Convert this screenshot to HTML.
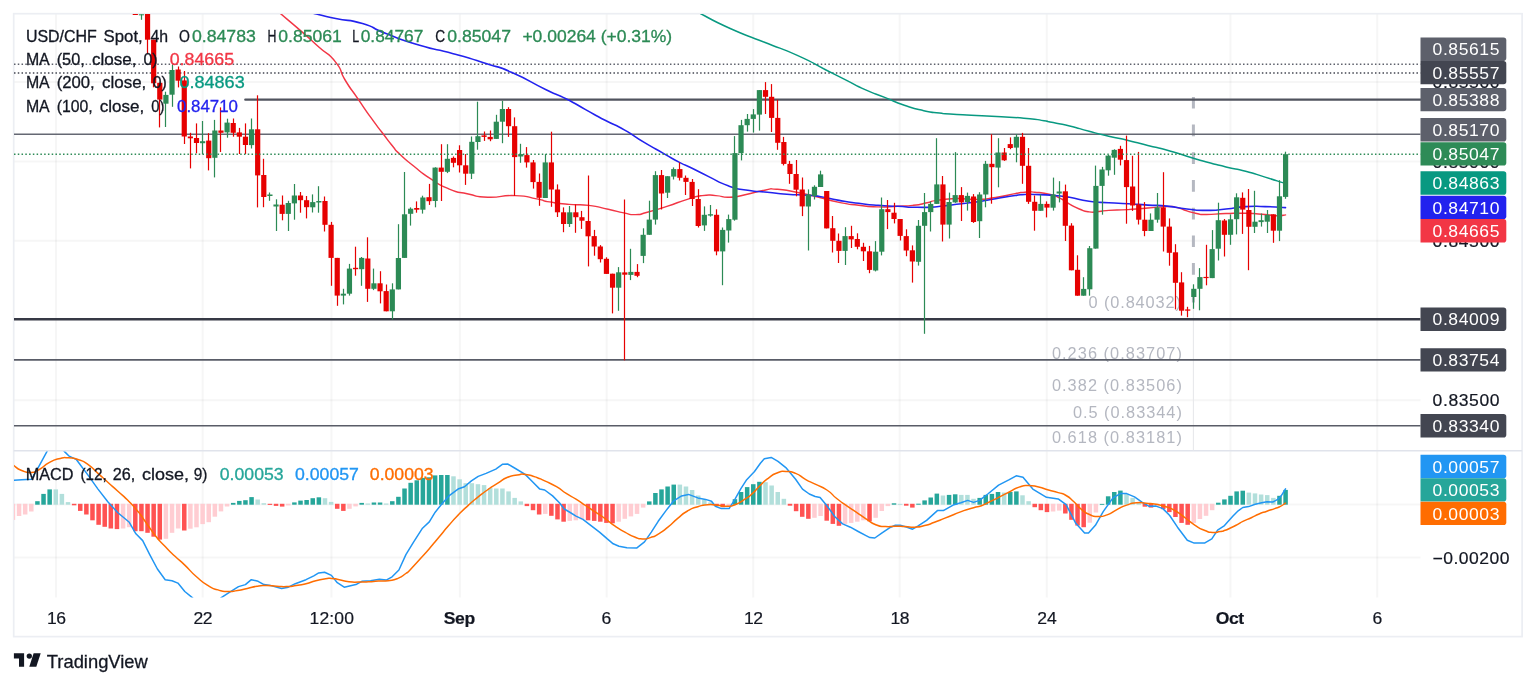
<!DOCTYPE html><html><head><meta charset="utf-8"><title>USD/CHF</title>
<style>html,body{margin:0;padding:0;background:#fff;}svg{display:block;font-family:"Liberation Sans", sans-serif;will-change:transform;opacity:0.999;}</style></head><body>
<svg width="1536" height="685" viewBox="0 0 1536 685">
<rect width="1536" height="685" fill="#fff"/>
<g stroke="#2a2e39" stroke-opacity="0.042" stroke-width="2" fill="none">
<line x1="56.0" y1="13.7" x2="56.0" y2="597.5"/>
<line x1="202.7" y1="13.7" x2="202.7" y2="597.5"/>
<line x1="331.4" y1="13.7" x2="331.4" y2="597.5"/>
<line x1="459.9" y1="13.7" x2="459.9" y2="597.5"/>
<line x1="606.7" y1="13.7" x2="606.7" y2="597.5"/>
<line x1="753.2" y1="13.7" x2="753.2" y2="597.5"/>
<line x1="899.7" y1="13.7" x2="899.7" y2="597.5"/>
<line x1="1046.8" y1="13.7" x2="1046.8" y2="597.5"/>
<line x1="1230.4" y1="13.7" x2="1230.4" y2="597.5"/>
<line x1="1377.2" y1="13.7" x2="1377.2" y2="597.5"/>
<line x1="13.7" y1="82.1" x2="1420.5" y2="82.1"/>
<line x1="13.7" y1="161.5" x2="1420.5" y2="161.5"/>
<line x1="13.7" y1="240.8" x2="1420.5" y2="240.8"/>
<line x1="13.7" y1="400.3" x2="1420.5" y2="400.3"/>
<line x1="13.7" y1="504.4" x2="1420.5" y2="504.4"/>
<line x1="13.7" y1="557.5" x2="1420.5" y2="557.5"/>
</g>
<rect x="13.7" y="13.7" width="1508.4" height="622.9" fill="none" stroke="#eceef3" stroke-width="1.7"/>
<line x1="13.7" y1="450.7" x2="1522.1" y2="450.7" stroke="#e0e3eb" stroke-width="1.4"/>
<defs><clipPath id="cm"><rect x="14" y="14" width="1406.5" height="436"/></clipPath><clipPath id="cd"><rect x="14" y="451.5" width="1406.5" height="146"/></clipPath></defs>
<g fill="none">
<line x1="14" y1="64.3" x2="1420.5" y2="64.3" stroke="#5d606b" stroke-width="1.5" stroke-dasharray="1.5 2.27"/>
<line x1="14" y1="72.9" x2="1420.5" y2="72.9" stroke="#434651" stroke-width="1.5" stroke-dasharray="1.5 2.27"/>
</g>
<line x1="1193.4" y1="96.9" x2="1193.4" y2="315.3" stroke="#b5b8c1" stroke-width="3" stroke-dasharray="11.7 16"/>
<line x1="1193.4" y1="303" x2="1193.4" y2="450.5" stroke="#e7e8eb" stroke-width="1.1"/>
<text transform="translate(1088.6 307.7) scale(1.020 1)" font-size="16" fill="#b4b7c0" text-anchor="start" textLength="90.49" lengthAdjust="spacing">0 (0.84032)</text>
<text transform="translate(1051.9 358.8) scale(1.020 1)" font-size="16" fill="#b4b7c0" text-anchor="start" textLength="127.45" lengthAdjust="spacing">0.236 (0.83707)</text>
<text transform="translate(1051.9 391.2) scale(1.020 1)" font-size="16" fill="#b4b7c0" text-anchor="start" textLength="127.45" lengthAdjust="spacing">0.382 (0.83506)</text>
<text transform="translate(1072.9 417.7) scale(1.020 1)" font-size="16" fill="#b4b7c0" text-anchor="start" textLength="106.86" lengthAdjust="spacing">0.5 (0.83344)</text>
<text transform="translate(1051.9 443.2) scale(1.020 1)" font-size="16" fill="#b4b7c0" text-anchor="start" textLength="127.45" lengthAdjust="spacing">0.618 (0.83181)</text>
<line x1="245.3" y1="99.7" x2="1420.5" y2="99.7" stroke="#50535e" stroke-width="2.3" stroke-linecap="round"/>
<line x1="14" y1="134.2" x2="1420.5" y2="134.2" stroke="#656873" stroke-width="1.6"/>
<line x1="14" y1="319.2" x2="1420.5" y2="319.2" stroke="#363945" stroke-width="2.4"/>
<line x1="14" y1="359.9" x2="1420.5" y2="359.9" stroke="#595c67" stroke-width="1.6"/>
<line x1="14" y1="425.8" x2="1420.5" y2="425.8" stroke="#595c67" stroke-width="1.6"/>
<g clip-path="url(#cm)" fill="none" stroke-linejoin="round" stroke-linecap="round">
<path d="M280.3 13.4 C287.5 19.6 289.2 20.7 302.0 31.9 C314.8 43.1 307.6 36.9 318.8 47.0 C330.0 57.1 326.8 51.1 335.6 62.1 C344.4 73.1 337.7 67.8 345.1 80.0 C352.5 92.2 349.3 86.2 357.8 98.6 C366.3 111.0 362.4 105.8 370.6 117.2 C378.8 128.6 375.1 123.4 382.3 132.8 C389.5 142.2 386.2 138.3 392.1 145.5 C398.0 152.7 392.7 147.5 399.9 154.3 C407.1 161.1 403.6 158.0 413.6 166.0 C423.6 174.0 418.3 170.8 430.0 178.4 C441.7 186.0 436.0 183.6 448.7 188.8 C461.4 194.0 455.2 191.2 468.2 194.0 C481.2 196.8 472.1 196.7 487.8 197.2 C503.5 197.7 498.9 195.0 515.2 195.6 C531.5 196.2 525.2 196.8 536.7 198.9 C548.2 201.0 538.8 200.1 549.6 201.9 C560.4 203.7 556.1 203.2 569.1 204.4 C582.1 205.6 575.7 203.8 588.7 205.4 C601.7 207.0 596.5 206.8 608.2 209.3 C619.9 211.8 614.8 211.1 623.9 212.9 C633.0 214.7 627.8 214.8 635.6 214.6 C643.4 214.4 636.9 215.0 647.3 212.3 C657.7 209.6 653.8 210.6 666.9 206.4 C680.0 202.2 674.8 203.2 686.5 199.6 C698.2 196.0 692.3 196.9 702.1 195.6 C711.9 194.3 706.7 195.1 715.8 195.6 C724.9 196.1 719.7 197.5 729.5 197.2 C739.3 196.9 733.4 197.0 745.1 194.7 C756.8 192.4 754.3 192.0 764.7 190.2 C775.1 188.4 766.6 188.7 776.4 189.2 C786.2 189.7 781.6 189.4 794.0 191.7 C806.4 194.0 805.1 194.1 813.6 196.0 C822.1 197.9 811.1 195.4 819.6 197.5 C828.1 199.6 826.1 199.8 839.1 202.4 C852.1 205.0 845.7 203.8 858.7 205.3 C871.7 206.8 865.2 206.6 878.2 206.9 C891.2 207.2 886.1 206.8 897.8 206.3 C909.5 205.8 903.6 206.5 913.4 205.3 C923.2 204.1 919.3 204.4 927.1 202.8 C934.9 201.2 927.1 201.8 936.9 200.4 C946.7 199.0 943.5 198.8 956.5 198.5 C969.5 198.2 963.0 199.7 976.0 199.4 C989.0 199.1 982.6 199.4 995.6 197.5 C1008.6 195.6 1005.3 195.4 1015.1 193.6 C1024.9 191.8 1018.4 192.7 1024.9 192.2 C1031.4 191.7 1026.2 191.4 1034.7 192.2 C1043.2 193.0 1041.9 192.5 1050.3 194.5 C1058.7 196.5 1053.4 195.0 1059.8 198.2 C1066.2 201.4 1063.1 200.5 1069.6 204.1 C1076.1 207.7 1072.8 206.4 1079.3 209.0 C1085.8 211.6 1082.6 211.1 1089.1 211.9 C1095.6 212.7 1092.4 212.0 1098.9 211.5 C1105.4 211.0 1098.9 211.0 1108.7 210.4 C1118.5 209.8 1115.2 210.4 1128.2 209.6 C1141.2 208.8 1134.8 209.0 1147.8 208.0 C1160.8 207.0 1157.5 206.7 1167.3 206.6 C1177.1 206.5 1170.6 206.2 1177.1 207.6 C1183.6 209.0 1180.4 208.9 1186.9 210.9 C1193.4 212.9 1190.2 212.3 1196.7 213.5 C1203.2 214.7 1196.7 214.5 1206.5 214.5 C1216.3 214.5 1213.0 213.9 1226.0 213.5 C1239.0 213.1 1232.6 213.0 1245.6 213.3 C1258.6 213.6 1254.7 213.7 1265.1 214.5 C1275.5 215.3 1270.1 215.7 1276.9 215.8 C1283.7 215.9 1282.6 215.2 1285.5 214.9" stroke="#f23645" stroke-width="1.45"/>
<path d="M313.9 13.4 C321.2 15.1 319.5 15.1 335.7 18.5 C351.9 21.9 345.7 18.5 362.5 23.5 C379.3 28.5 367.0 26.3 386.0 33.6 C405.0 40.9 397.2 38.6 419.6 45.3 C442.0 52.0 430.8 47.5 453.2 53.7 C475.6 59.9 467.2 57.5 486.8 63.8 C506.4 70.1 492.4 63.9 512.0 72.5 C531.6 81.1 527.6 80.7 545.6 89.5 C563.6 98.3 552.7 92.1 566.0 98.8 C579.3 105.5 572.6 102.4 585.6 109.6 C598.6 116.8 592.1 113.5 605.1 120.3 C618.1 127.1 611.7 122.7 624.7 130.1 C637.7 137.5 631.2 134.6 644.2 142.4 C657.2 150.2 652.0 146.9 663.8 153.6 C675.6 160.3 670.8 157.8 679.5 162.4 C688.2 167.0 680.3 162.6 690.0 167.3 C699.7 172.0 696.0 170.4 708.7 176.6 C721.4 182.8 715.2 181.2 728.2 185.8 C741.2 190.4 734.8 188.2 747.8 190.3 C760.8 192.4 754.3 190.9 767.3 192.2 C780.3 193.5 773.8 193.2 786.9 194.2 C800.0 195.2 795.6 194.4 806.5 195.2 C817.4 196.0 808.7 194.8 819.6 196.5 C830.5 198.2 826.1 198.1 839.1 200.4 C852.1 202.7 845.7 201.7 858.7 203.3 C871.7 204.9 865.2 204.3 878.2 205.3 C891.2 206.3 884.8 205.6 897.8 206.3 C910.8 207.0 904.3 207.2 917.3 207.3 C930.3 207.4 923.8 207.7 936.9 206.7 C950.0 205.7 943.5 205.9 956.5 204.3 C969.5 202.7 963.0 203.8 976.0 202.0 C989.0 200.2 982.6 201.0 995.6 198.8 C1008.6 196.6 1005.3 196.9 1015.1 195.5 C1024.9 194.1 1018.4 194.8 1024.9 194.5 C1031.4 194.2 1024.9 194.2 1034.7 194.5 C1044.5 194.8 1042.7 194.6 1054.3 195.5 C1065.9 196.4 1058.0 195.4 1069.6 197.3 C1081.2 199.2 1076.1 199.4 1089.1 201.2 C1102.1 203.0 1095.7 201.9 1108.7 202.7 C1121.7 203.5 1115.2 202.9 1128.2 203.7 C1141.2 204.5 1134.8 204.3 1147.8 205.1 C1160.8 205.9 1154.3 204.8 1167.3 206.1 C1180.3 207.4 1173.8 207.6 1186.9 209.0 C1200.0 210.4 1193.5 210.4 1206.5 210.4 C1219.5 210.4 1213.0 210.3 1226.0 209.0 C1239.0 207.7 1232.6 207.4 1245.6 206.6 C1258.6 205.8 1251.8 206.3 1265.1 206.6 C1278.4 206.9 1278.7 207.3 1285.5 207.6" stroke="#2222ee" stroke-width="1.6"/>
<path d="M700.0 13.4 C710.1 18.4 708.9 19.0 730.2 28.5 C751.5 38.0 741.4 33.0 763.8 42.0 C786.2 51.0 776.6 46.1 797.3 55.4 C818.0 64.7 809.9 61.9 826.0 70.0 C842.1 78.1 832.6 73.3 845.6 79.8 C858.6 86.3 852.1 83.7 865.1 89.6 C878.1 95.5 871.6 92.2 884.7 97.4 C897.8 102.6 891.3 100.8 904.3 105.2 C917.3 109.6 912.1 108.1 923.8 110.7 C935.5 113.3 930.8 111.9 939.5 113.0 C948.2 114.1 935.9 113.1 950.0 114.0 C964.1 114.9 957.3 114.4 981.9 115.8 C1006.5 117.2 1003.2 116.5 1023.9 118.2 C1044.6 119.9 1035.4 119.5 1044.1 120.8 C1052.8 122.1 1041.5 120.3 1050.0 122.0 C1058.5 123.7 1056.6 122.8 1069.6 125.9 C1082.6 129.0 1076.1 127.9 1089.1 131.3 C1102.1 134.7 1095.7 133.1 1108.7 136.2 C1121.7 139.3 1115.2 137.4 1128.2 140.5 C1141.2 143.6 1134.8 142.1 1147.8 145.4 C1160.8 148.7 1154.3 146.7 1167.3 150.3 C1180.3 153.9 1173.8 152.3 1186.9 156.2 C1200.0 160.1 1193.5 158.4 1206.5 162.0 C1219.5 165.6 1213.0 163.8 1226.0 166.9 C1239.0 170.0 1232.6 167.8 1245.6 171.2 C1258.6 174.6 1252.7 173.3 1265.1 177.1 C1277.5 180.9 1275.9 180.5 1282.7 182.6 C1289.5 184.7 1284.6 183.2 1285.5 183.5" stroke="#089981" stroke-width="1.5"/>
</g>
<g clip-path="url(#cm)" shape-rendering="auto">
<rect x="134.90" y="13.5" width="1.2" height="1.5" fill="#e60000"/>
<rect x="132.71" y="13.5" width="5.2" height="1.5" fill="#e60000"/>
<rect x="140.90" y="14.3" width="1.2" height="5.5" fill="#2c8a55"/>
<rect x="138.83" y="14.3" width="5.2" height="1.0" fill="#2c8a55"/>
<rect x="146.90" y="13.5" width="1.2" height="40.5" fill="#e60000"/>
<rect x="144.95" y="13.5" width="5.2" height="26.2" fill="#e60000"/>
<rect x="152.90" y="39.7" width="1.2" height="47.6" fill="#e60000"/>
<rect x="151.07" y="39.7" width="5.2" height="43.6" fill="#e60000"/>
<rect x="158.90" y="82.8" width="1.2" height="44.6" fill="#e60000"/>
<rect x="157.19" y="82.8" width="5.2" height="16.8" fill="#e60000"/>
<rect x="164.90" y="91.7" width="1.2" height="35.3" fill="#2c8a55"/>
<rect x="163.31" y="94.9" width="5.2" height="8.8" fill="#2c8a55"/>
<rect x="171.90" y="64.8" width="1.2" height="42.0" fill="#2c8a55"/>
<rect x="169.42" y="70.0" width="5.2" height="24.7" fill="#2c8a55"/>
<rect x="177.90" y="66.5" width="1.2" height="20.9" fill="#e60000"/>
<rect x="175.54" y="69.5" width="5.2" height="11.2" fill="#e60000"/>
<rect x="183.90" y="71.0" width="1.2" height="73.0" fill="#e60000"/>
<rect x="181.66" y="80.4" width="5.2" height="56.1" fill="#e60000"/>
<rect x="189.90" y="132.8" width="1.2" height="35.6" fill="#e60000"/>
<rect x="187.78" y="136.5" width="5.2" height="1.8" fill="#e60000"/>
<rect x="195.90" y="123.4" width="1.2" height="29.9" fill="#e60000"/>
<rect x="193.90" y="138.0" width="5.2" height="5.0" fill="#e60000"/>
<rect x="201.90" y="121.0" width="1.2" height="33.3" fill="#2c8a55"/>
<rect x="200.02" y="141.2" width="5.2" height="2.0" fill="#2c8a55"/>
<rect x="207.90" y="133.2" width="1.2" height="37.2" fill="#e60000"/>
<rect x="206.14" y="140.6" width="5.2" height="17.6" fill="#e60000"/>
<rect x="213.90" y="119.9" width="1.2" height="57.5" fill="#2c8a55"/>
<rect x="212.25" y="130.5" width="5.2" height="27.3" fill="#2c8a55"/>
<rect x="219.90" y="107.4" width="1.2" height="44.6" fill="#e60000"/>
<rect x="218.37" y="130.5" width="5.2" height="2.3" fill="#e60000"/>
<rect x="226.90" y="118.7" width="1.2" height="19.0" fill="#2c8a55"/>
<rect x="224.49" y="122.6" width="5.2" height="9.8" fill="#2c8a55"/>
<rect x="232.90" y="118.5" width="1.2" height="18.2" fill="#e60000"/>
<rect x="230.61" y="123.0" width="5.2" height="9.8" fill="#e60000"/>
<rect x="238.90" y="127.9" width="1.2" height="26.1" fill="#e60000"/>
<rect x="236.73" y="132.4" width="5.2" height="4.3" fill="#e60000"/>
<rect x="244.90" y="123.4" width="1.2" height="30.6" fill="#e60000"/>
<rect x="242.85" y="136.7" width="5.2" height="8.3" fill="#e60000"/>
<rect x="250.90" y="118.5" width="1.2" height="30.0" fill="#2c8a55"/>
<rect x="248.96" y="129.3" width="5.2" height="15.8" fill="#2c8a55"/>
<rect x="256.90" y="95.3" width="1.2" height="112.1" fill="#e60000"/>
<rect x="255.08" y="129.3" width="5.2" height="46.1" fill="#e60000"/>
<rect x="262.90" y="158.8" width="1.2" height="48.4" fill="#e60000"/>
<rect x="261.20" y="175.0" width="5.2" height="22.0" fill="#e60000"/>
<rect x="268.90" y="192.5" width="1.2" height="8.3" fill="#2c8a55"/>
<rect x="267.32" y="194.5" width="5.2" height="1.5" fill="#2c8a55"/>
<rect x="275.90" y="199.3" width="1.2" height="31.7" fill="#2c8a55"/>
<rect x="273.44" y="204.5" width="5.2" height="2.0" fill="#2c8a55"/>
<rect x="281.90" y="195.5" width="1.2" height="24.8" fill="#e60000"/>
<rect x="279.56" y="204.7" width="5.2" height="9.2" fill="#e60000"/>
<rect x="287.90" y="200.8" width="1.2" height="30.2" fill="#2c8a55"/>
<rect x="285.68" y="203.0" width="5.2" height="10.9" fill="#2c8a55"/>
<rect x="293.90" y="184.0" width="1.2" height="35.7" fill="#2c8a55"/>
<rect x="291.79" y="195.5" width="5.2" height="7.9" fill="#2c8a55"/>
<rect x="299.90" y="192.0" width="1.2" height="20.7" fill="#e60000"/>
<rect x="297.91" y="195.5" width="5.2" height="4.7" fill="#e60000"/>
<rect x="305.90" y="196.0" width="1.2" height="22.4" fill="#e60000"/>
<rect x="304.03" y="200.2" width="5.2" height="7.0" fill="#e60000"/>
<rect x="311.90" y="194.4" width="1.2" height="18.1" fill="#2c8a55"/>
<rect x="310.15" y="202.1" width="5.2" height="5.2" fill="#2c8a55"/>
<rect x="317.90" y="186.2" width="1.2" height="26.5" fill="#2c8a55"/>
<rect x="316.27" y="201.0" width="5.2" height="1.5" fill="#2c8a55"/>
<rect x="323.90" y="196.5" width="1.2" height="35.0" fill="#e60000"/>
<rect x="322.39" y="201.0" width="5.2" height="23.8" fill="#e60000"/>
<rect x="330.90" y="221.9" width="1.2" height="63.9" fill="#e60000"/>
<rect x="328.50" y="224.8" width="5.2" height="33.1" fill="#e60000"/>
<rect x="336.90" y="257.9" width="1.2" height="47.9" fill="#e60000"/>
<rect x="334.62" y="257.9" width="5.2" height="37.7" fill="#e60000"/>
<rect x="342.90" y="288.8" width="1.2" height="15.6" fill="#2c8a55"/>
<rect x="340.74" y="293.7" width="5.2" height="1.9" fill="#2c8a55"/>
<rect x="348.90" y="263.9" width="1.2" height="31.7" fill="#2c8a55"/>
<rect x="346.86" y="268.6" width="5.2" height="25.1" fill="#2c8a55"/>
<rect x="354.90" y="246.7" width="1.2" height="29.0" fill="#e60000"/>
<rect x="352.98" y="267.8" width="5.2" height="1.4" fill="#e60000"/>
<rect x="360.90" y="257.0" width="1.2" height="28.8" fill="#2c8a55"/>
<rect x="359.10" y="257.9" width="5.2" height="11.3" fill="#2c8a55"/>
<rect x="366.90" y="237.3" width="1.2" height="64.6" fill="#e60000"/>
<rect x="365.22" y="258.5" width="5.2" height="30.3" fill="#e60000"/>
<rect x="372.90" y="268.6" width="1.2" height="21.5" fill="#2c8a55"/>
<rect x="371.33" y="283.3" width="5.2" height="5.5" fill="#2c8a55"/>
<rect x="379.90" y="271.2" width="1.2" height="32.2" fill="#e60000"/>
<rect x="377.45" y="283.3" width="5.2" height="8.0" fill="#e60000"/>
<rect x="385.90" y="284.5" width="1.2" height="26.8" fill="#e60000"/>
<rect x="383.57" y="291.1" width="5.2" height="20.2" fill="#e60000"/>
<rect x="391.90" y="283.3" width="1.2" height="36.2" fill="#2c8a55"/>
<rect x="389.69" y="289.4" width="5.2" height="21.9" fill="#2c8a55"/>
<rect x="397.90" y="224.2" width="1.2" height="65.2" fill="#2c8a55"/>
<rect x="395.81" y="258.0" width="5.2" height="31.4" fill="#2c8a55"/>
<rect x="403.90" y="172.0" width="1.2" height="85.9" fill="#2c8a55"/>
<rect x="401.93" y="214.3" width="5.2" height="43.6" fill="#2c8a55"/>
<rect x="409.90" y="207.4" width="1.2" height="18.2" fill="#2c8a55"/>
<rect x="408.05" y="208.7" width="5.2" height="5.1" fill="#2c8a55"/>
<rect x="415.90" y="201.4" width="1.2" height="11.3" fill="#e60000"/>
<rect x="414.16" y="208.0" width="5.2" height="1.7" fill="#e60000"/>
<rect x="421.90" y="195.7" width="1.2" height="17.9" fill="#2c8a55"/>
<rect x="420.28" y="197.5" width="5.2" height="12.2" fill="#2c8a55"/>
<rect x="428.90" y="183.9" width="1.2" height="21.0" fill="#e60000"/>
<rect x="426.40" y="197.2" width="5.2" height="4.0" fill="#e60000"/>
<rect x="434.90" y="167.3" width="1.2" height="40.0" fill="#2c8a55"/>
<rect x="432.52" y="167.6" width="5.2" height="33.4" fill="#2c8a55"/>
<rect x="440.90" y="144.2" width="1.2" height="56.8" fill="#e60000"/>
<rect x="438.64" y="167.6" width="5.2" height="4.2" fill="#e60000"/>
<rect x="446.90" y="144.2" width="1.2" height="28.9" fill="#2c8a55"/>
<rect x="444.76" y="158.8" width="5.2" height="13.0" fill="#2c8a55"/>
<rect x="452.90" y="156.5" width="1.2" height="10.8" fill="#e60000"/>
<rect x="450.88" y="157.9" width="5.2" height="4.9" fill="#e60000"/>
<rect x="458.90" y="145.3" width="1.2" height="27.2" fill="#e60000"/>
<rect x="456.99" y="150.0" width="5.2" height="15.3" fill="#e60000"/>
<rect x="464.90" y="154.1" width="1.2" height="30.8" fill="#e60000"/>
<rect x="463.11" y="165.3" width="5.2" height="8.4" fill="#e60000"/>
<rect x="470.90" y="136.5" width="1.2" height="42.5" fill="#2c8a55"/>
<rect x="469.23" y="141.8" width="5.2" height="31.9" fill="#2c8a55"/>
<rect x="476.90" y="101.7" width="1.2" height="48.0" fill="#2c8a55"/>
<rect x="475.35" y="136.2" width="5.2" height="5.8" fill="#2c8a55"/>
<rect x="483.90" y="131.5" width="1.2" height="9.4" fill="#e60000"/>
<rect x="481.47" y="135.4" width="5.2" height="1.5" fill="#e60000"/>
<rect x="489.90" y="130.5" width="1.2" height="10.7" fill="#e60000"/>
<rect x="487.59" y="136.9" width="5.2" height="2.4" fill="#e60000"/>
<rect x="495.90" y="114.8" width="1.2" height="24.1" fill="#2c8a55"/>
<rect x="493.70" y="121.7" width="5.2" height="17.2" fill="#2c8a55"/>
<rect x="501.90" y="100.8" width="1.2" height="42.4" fill="#2c8a55"/>
<rect x="499.82" y="109.0" width="5.2" height="12.7" fill="#2c8a55"/>
<rect x="507.90" y="107.2" width="1.2" height="29.7" fill="#e60000"/>
<rect x="505.94" y="109.0" width="5.2" height="17.2" fill="#e60000"/>
<rect x="513.90" y="117.4" width="1.2" height="78.6" fill="#e60000"/>
<rect x="512.06" y="126.2" width="5.2" height="30.9" fill="#e60000"/>
<rect x="519.90" y="143.8" width="1.2" height="19.0" fill="#2c8a55"/>
<rect x="518.18" y="154.1" width="5.2" height="2.4" fill="#2c8a55"/>
<rect x="525.90" y="147.1" width="1.2" height="20.5" fill="#e60000"/>
<rect x="524.30" y="155.1" width="5.2" height="7.3" fill="#e60000"/>
<rect x="532.90" y="160.0" width="1.2" height="28.6" fill="#e60000"/>
<rect x="530.42" y="162.4" width="5.2" height="19.7" fill="#e60000"/>
<rect x="538.90" y="173.5" width="1.2" height="32.3" fill="#e60000"/>
<rect x="536.53" y="181.9" width="5.2" height="15.9" fill="#e60000"/>
<rect x="544.90" y="154.1" width="1.2" height="43.9" fill="#2c8a55"/>
<rect x="542.65" y="162.4" width="5.2" height="35.6" fill="#2c8a55"/>
<rect x="550.90" y="131.7" width="1.2" height="75.1" fill="#e60000"/>
<rect x="548.77" y="162.4" width="5.2" height="27.1" fill="#e60000"/>
<rect x="556.90" y="184.4" width="1.2" height="32.6" fill="#e60000"/>
<rect x="554.89" y="189.5" width="5.2" height="22.8" fill="#e60000"/>
<rect x="562.90" y="207.4" width="1.2" height="24.8" fill="#e60000"/>
<rect x="561.01" y="212.3" width="5.2" height="11.7" fill="#e60000"/>
<rect x="568.90" y="206.0" width="1.2" height="21.0" fill="#2c8a55"/>
<rect x="567.13" y="212.3" width="5.2" height="11.7" fill="#2c8a55"/>
<rect x="574.90" y="204.4" width="1.2" height="28.4" fill="#e60000"/>
<rect x="573.25" y="212.3" width="5.2" height="4.9" fill="#e60000"/>
<rect x="580.90" y="210.9" width="1.2" height="18.0" fill="#e60000"/>
<rect x="579.36" y="217.2" width="5.2" height="3.5" fill="#e60000"/>
<rect x="587.90" y="175.5" width="1.2" height="90.9" fill="#e60000"/>
<rect x="585.48" y="221.0" width="5.2" height="15.3" fill="#e60000"/>
<rect x="593.90" y="229.9" width="1.2" height="25.8" fill="#e60000"/>
<rect x="591.60" y="236.1" width="5.2" height="10.4" fill="#e60000"/>
<rect x="599.90" y="245.1" width="1.2" height="17.4" fill="#e60000"/>
<rect x="597.72" y="246.5" width="5.2" height="12.7" fill="#e60000"/>
<rect x="605.90" y="257.3" width="1.2" height="16.6" fill="#e60000"/>
<rect x="603.84" y="258.8" width="5.2" height="15.1" fill="#e60000"/>
<rect x="611.90" y="273.7" width="1.2" height="39.7" fill="#e60000"/>
<rect x="609.96" y="273.7" width="5.2" height="14.0" fill="#e60000"/>
<rect x="617.90" y="267.1" width="1.2" height="43.7" fill="#2c8a55"/>
<rect x="616.07" y="272.3" width="5.2" height="15.4" fill="#2c8a55"/>
<rect x="623.90" y="199.5" width="1.2" height="160.8" fill="#e60000"/>
<rect x="622.19" y="272.4" width="5.2" height="2.3" fill="#e60000"/>
<rect x="629.90" y="248.8" width="1.2" height="31.3" fill="#2c8a55"/>
<rect x="628.31" y="271.9" width="5.2" height="3.0" fill="#2c8a55"/>
<rect x="636.90" y="264.1" width="1.2" height="13.1" fill="#e60000"/>
<rect x="634.43" y="271.9" width="5.2" height="3.9" fill="#e60000"/>
<rect x="642.90" y="228.3" width="1.2" height="34.8" fill="#2c8a55"/>
<rect x="640.55" y="234.8" width="5.2" height="21.1" fill="#2c8a55"/>
<rect x="648.90" y="200.7" width="1.2" height="34.1" fill="#2c8a55"/>
<rect x="646.67" y="219.6" width="5.2" height="15.2" fill="#2c8a55"/>
<rect x="654.90" y="171.2" width="1.2" height="53.4" fill="#2c8a55"/>
<rect x="652.79" y="175.1" width="5.2" height="44.5" fill="#2c8a55"/>
<rect x="660.90" y="170.0" width="1.2" height="39.5" fill="#e60000"/>
<rect x="658.90" y="175.1" width="5.2" height="18.4" fill="#e60000"/>
<rect x="666.90" y="176.2" width="1.2" height="21.8" fill="#2c8a55"/>
<rect x="665.02" y="176.2" width="5.2" height="16.5" fill="#2c8a55"/>
<rect x="672.90" y="167.4" width="1.2" height="12.1" fill="#2c8a55"/>
<rect x="671.14" y="169.1" width="5.2" height="7.5" fill="#2c8a55"/>
<rect x="678.90" y="162.6" width="1.2" height="17.9" fill="#e60000"/>
<rect x="677.26" y="169.1" width="5.2" height="8.7" fill="#e60000"/>
<rect x="684.90" y="175.5" width="1.2" height="19.5" fill="#e60000"/>
<rect x="683.38" y="177.8" width="5.2" height="4.1" fill="#e60000"/>
<rect x="691.90" y="179.0" width="1.2" height="27.0" fill="#e60000"/>
<rect x="689.50" y="181.9" width="5.2" height="17.1" fill="#e60000"/>
<rect x="697.90" y="189.2" width="1.2" height="38.3" fill="#e60000"/>
<rect x="695.61" y="199.0" width="5.2" height="27.0" fill="#e60000"/>
<rect x="703.90" y="206.4" width="1.2" height="24.5" fill="#2c8a55"/>
<rect x="701.73" y="214.8" width="5.2" height="10.6" fill="#2c8a55"/>
<rect x="709.90" y="205.0" width="1.2" height="11.6" fill="#2c8a55"/>
<rect x="707.85" y="214.2" width="5.2" height="1.4" fill="#2c8a55"/>
<rect x="715.90" y="209.3" width="1.2" height="46.0" fill="#e60000"/>
<rect x="713.97" y="214.8" width="5.2" height="36.6" fill="#e60000"/>
<rect x="721.90" y="227.5" width="1.2" height="57.7" fill="#2c8a55"/>
<rect x="720.09" y="229.9" width="5.2" height="21.5" fill="#2c8a55"/>
<rect x="727.90" y="214.6" width="1.2" height="28.0" fill="#2c8a55"/>
<rect x="726.21" y="219.1" width="5.2" height="11.4" fill="#2c8a55"/>
<rect x="733.90" y="136.1" width="1.2" height="84.6" fill="#2c8a55"/>
<rect x="732.33" y="153.1" width="5.2" height="66.6" fill="#2c8a55"/>
<rect x="740.90" y="119.9" width="1.2" height="40.5" fill="#2c8a55"/>
<rect x="738.44" y="125.2" width="5.2" height="27.9" fill="#2c8a55"/>
<rect x="746.90" y="114.0" width="1.2" height="17.6" fill="#2c8a55"/>
<rect x="744.56" y="118.9" width="5.2" height="6.3" fill="#2c8a55"/>
<rect x="752.90" y="109.1" width="1.2" height="23.5" fill="#2c8a55"/>
<rect x="750.68" y="114.4" width="5.2" height="4.5" fill="#2c8a55"/>
<rect x="758.90" y="90.1" width="1.2" height="40.5" fill="#2c8a55"/>
<rect x="756.80" y="90.1" width="5.2" height="24.5" fill="#2c8a55"/>
<rect x="764.90" y="82.1" width="1.2" height="31.9" fill="#e60000"/>
<rect x="762.92" y="90.1" width="5.2" height="6.7" fill="#e60000"/>
<rect x="770.90" y="84.1" width="1.2" height="47.9" fill="#e60000"/>
<rect x="769.04" y="96.8" width="5.2" height="21.1" fill="#e60000"/>
<rect x="776.90" y="99.7" width="1.2" height="50.1" fill="#e60000"/>
<rect x="775.16" y="117.9" width="5.2" height="24.9" fill="#e60000"/>
<rect x="782.90" y="136.9" width="1.2" height="28.5" fill="#e60000"/>
<rect x="781.27" y="142.0" width="5.2" height="21.9" fill="#e60000"/>
<rect x="788.90" y="160.9" width="1.2" height="22.9" fill="#e60000"/>
<rect x="787.39" y="163.9" width="5.2" height="10.1" fill="#e60000"/>
<rect x="795.90" y="160.0" width="1.2" height="36.3" fill="#e60000"/>
<rect x="793.51" y="174.0" width="5.2" height="15.7" fill="#e60000"/>
<rect x="801.90" y="177.5" width="1.2" height="38.6" fill="#e60000"/>
<rect x="799.63" y="189.5" width="5.2" height="16.9" fill="#e60000"/>
<rect x="807.90" y="189.4" width="1.2" height="61.1" fill="#2c8a55"/>
<rect x="805.75" y="194.5" width="5.2" height="12.0" fill="#2c8a55"/>
<rect x="813.90" y="185.3" width="1.2" height="14.2" fill="#2c8a55"/>
<rect x="811.87" y="186.8" width="5.2" height="9.1" fill="#2c8a55"/>
<rect x="819.90" y="170.7" width="1.2" height="16.3" fill="#2c8a55"/>
<rect x="817.99" y="174.4" width="5.2" height="12.6" fill="#2c8a55"/>
<rect x="825.90" y="191.0" width="1.2" height="37.4" fill="#e60000"/>
<rect x="824.10" y="191.0" width="5.2" height="37.4" fill="#e60000"/>
<rect x="831.90" y="216.0" width="1.2" height="36.5" fill="#e60000"/>
<rect x="830.22" y="228.2" width="5.2" height="12.6" fill="#e60000"/>
<rect x="837.90" y="233.5" width="1.2" height="29.5" fill="#e60000"/>
<rect x="836.34" y="240.8" width="5.2" height="10.1" fill="#e60000"/>
<rect x="844.90" y="227.2" width="1.2" height="37.8" fill="#2c8a55"/>
<rect x="842.46" y="236.1" width="5.2" height="14.8" fill="#2c8a55"/>
<rect x="850.90" y="225.8" width="1.2" height="22.2" fill="#e60000"/>
<rect x="848.58" y="236.1" width="5.2" height="3.3" fill="#e60000"/>
<rect x="856.90" y="233.3" width="1.2" height="16.0" fill="#e60000"/>
<rect x="854.70" y="239.0" width="5.2" height="7.8" fill="#e60000"/>
<rect x="862.90" y="242.8" width="1.2" height="18.2" fill="#e60000"/>
<rect x="860.81" y="246.8" width="5.2" height="4.5" fill="#e60000"/>
<rect x="868.90" y="245.9" width="1.2" height="27.3" fill="#e60000"/>
<rect x="866.93" y="251.3" width="5.2" height="18.6" fill="#e60000"/>
<rect x="874.90" y="241.1" width="1.2" height="30.3" fill="#2c8a55"/>
<rect x="873.05" y="251.7" width="5.2" height="18.8" fill="#2c8a55"/>
<rect x="880.90" y="197.5" width="1.2" height="57.9" fill="#2c8a55"/>
<rect x="879.17" y="209.2" width="5.2" height="42.5" fill="#2c8a55"/>
<rect x="886.90" y="200.0" width="1.2" height="29.1" fill="#e60000"/>
<rect x="885.29" y="209.2" width="5.2" height="2.9" fill="#e60000"/>
<rect x="893.90" y="202.8" width="1.2" height="20.6" fill="#e60000"/>
<rect x="891.41" y="212.7" width="5.2" height="6.3" fill="#e60000"/>
<rect x="899.90" y="219.0" width="1.2" height="21.5" fill="#e60000"/>
<rect x="897.53" y="219.0" width="5.2" height="16.9" fill="#e60000"/>
<rect x="905.90" y="229.3" width="1.2" height="26.9" fill="#e60000"/>
<rect x="903.64" y="236.1" width="5.2" height="14.4" fill="#e60000"/>
<rect x="911.90" y="245.4" width="1.2" height="37.2" fill="#e60000"/>
<rect x="909.76" y="250.3" width="5.2" height="11.2" fill="#e60000"/>
<rect x="917.90" y="220.0" width="1.2" height="45.6" fill="#2c8a55"/>
<rect x="915.88" y="225.8" width="5.2" height="36.0" fill="#2c8a55"/>
<rect x="923.90" y="193.0" width="1.2" height="140.8" fill="#2c8a55"/>
<rect x="922.00" y="212.1" width="5.2" height="13.7" fill="#2c8a55"/>
<rect x="929.90" y="201.4" width="1.2" height="30.1" fill="#2c8a55"/>
<rect x="928.12" y="203.9" width="5.2" height="8.2" fill="#2c8a55"/>
<rect x="935.90" y="138.2" width="1.2" height="65.7" fill="#2c8a55"/>
<rect x="934.24" y="184.4" width="5.2" height="19.5" fill="#2c8a55"/>
<rect x="941.90" y="176.0" width="1.2" height="65.5" fill="#e60000"/>
<rect x="940.35" y="184.4" width="5.2" height="40.2" fill="#e60000"/>
<rect x="948.90" y="192.6" width="1.2" height="45.9" fill="#2c8a55"/>
<rect x="946.47" y="202.0" width="5.2" height="22.6" fill="#2c8a55"/>
<rect x="954.90" y="152.1" width="1.2" height="50.7" fill="#2c8a55"/>
<rect x="952.59" y="195.1" width="5.2" height="7.3" fill="#2c8a55"/>
<rect x="960.90" y="187.1" width="1.2" height="33.9" fill="#e60000"/>
<rect x="958.71" y="195.1" width="5.2" height="7.3" fill="#e60000"/>
<rect x="966.90" y="192.6" width="1.2" height="18.0" fill="#2c8a55"/>
<rect x="964.83" y="195.9" width="5.2" height="6.1" fill="#2c8a55"/>
<rect x="972.90" y="194.1" width="1.2" height="28.8" fill="#e60000"/>
<rect x="970.95" y="196.5" width="5.2" height="25.5" fill="#e60000"/>
<rect x="978.90" y="192.2" width="1.2" height="45.8" fill="#2c8a55"/>
<rect x="977.07" y="194.5" width="5.2" height="26.7" fill="#2c8a55"/>
<rect x="984.90" y="160.9" width="1.2" height="46.4" fill="#2c8a55"/>
<rect x="983.18" y="163.8" width="5.2" height="30.7" fill="#2c8a55"/>
<rect x="990.90" y="134.3" width="1.2" height="69.4" fill="#e60000"/>
<rect x="989.30" y="163.8" width="5.2" height="3.4" fill="#e60000"/>
<rect x="997.90" y="138.2" width="1.2" height="49.1" fill="#2c8a55"/>
<rect x="995.42" y="152.5" width="5.2" height="15.1" fill="#2c8a55"/>
<rect x="1003.90" y="148.0" width="1.2" height="12.9" fill="#e60000"/>
<rect x="1001.54" y="152.5" width="5.2" height="7.8" fill="#e60000"/>
<rect x="1009.90" y="137.4" width="1.2" height="11.8" fill="#e60000"/>
<rect x="1007.66" y="144.1" width="5.2" height="3.9" fill="#e60000"/>
<rect x="1015.90" y="134.3" width="1.2" height="28.0" fill="#2c8a55"/>
<rect x="1013.78" y="136.8" width="5.2" height="10.8" fill="#2c8a55"/>
<rect x="1021.90" y="132.9" width="1.2" height="50.9" fill="#e60000"/>
<rect x="1019.90" y="136.8" width="5.2" height="29.0" fill="#e60000"/>
<rect x="1027.90" y="148.0" width="1.2" height="55.9" fill="#e60000"/>
<rect x="1026.01" y="165.8" width="5.2" height="36.0" fill="#e60000"/>
<rect x="1033.90" y="195.5" width="1.2" height="35.2" fill="#e60000"/>
<rect x="1032.13" y="201.8" width="5.2" height="9.0" fill="#e60000"/>
<rect x="1039.90" y="194.5" width="1.2" height="16.3" fill="#2c8a55"/>
<rect x="1038.25" y="203.9" width="5.2" height="6.9" fill="#2c8a55"/>
<rect x="1045.90" y="201.4" width="1.2" height="16.0" fill="#e60000"/>
<rect x="1044.37" y="203.9" width="5.2" height="3.7" fill="#e60000"/>
<rect x="1052.90" y="177.6" width="1.2" height="33.0" fill="#2c8a55"/>
<rect x="1050.49" y="194.4" width="5.2" height="13.3" fill="#2c8a55"/>
<rect x="1058.90" y="181.2" width="1.2" height="21.2" fill="#2c8a55"/>
<rect x="1056.61" y="191.5" width="5.2" height="2.0" fill="#2c8a55"/>
<rect x="1064.90" y="184.6" width="1.2" height="56.4" fill="#e60000"/>
<rect x="1062.73" y="191.3" width="5.2" height="34.5" fill="#e60000"/>
<rect x="1070.90" y="223.2" width="1.2" height="47.1" fill="#e60000"/>
<rect x="1068.84" y="225.6" width="5.2" height="44.7" fill="#e60000"/>
<rect x="1076.90" y="255.3" width="1.2" height="40.4" fill="#e60000"/>
<rect x="1074.96" y="269.8" width="5.2" height="25.9" fill="#e60000"/>
<rect x="1082.90" y="277.2" width="1.2" height="18.5" fill="#2c8a55"/>
<rect x="1081.08" y="288.9" width="5.2" height="6.8" fill="#2c8a55"/>
<rect x="1088.90" y="246.0" width="1.2" height="49.7" fill="#2c8a55"/>
<rect x="1087.20" y="248.2" width="5.2" height="41.1" fill="#2c8a55"/>
<rect x="1094.90" y="165.6" width="1.2" height="83.0" fill="#2c8a55"/>
<rect x="1093.32" y="185.9" width="5.2" height="62.7" fill="#2c8a55"/>
<rect x="1101.90" y="166.9" width="1.2" height="47.8" fill="#2c8a55"/>
<rect x="1099.44" y="169.5" width="5.2" height="16.4" fill="#2c8a55"/>
<rect x="1107.90" y="154.8" width="1.2" height="20.9" fill="#2c8a55"/>
<rect x="1105.55" y="155.6" width="5.2" height="14.7" fill="#2c8a55"/>
<rect x="1113.90" y="149.3" width="1.2" height="25.5" fill="#2c8a55"/>
<rect x="1111.67" y="149.9" width="5.2" height="7.8" fill="#2c8a55"/>
<rect x="1119.90" y="145.8" width="1.2" height="19.6" fill="#e60000"/>
<rect x="1117.79" y="148.9" width="5.2" height="10.8" fill="#e60000"/>
<rect x="1125.90" y="135.6" width="1.2" height="88.1" fill="#e60000"/>
<rect x="1123.91" y="160.1" width="5.2" height="27.0" fill="#e60000"/>
<rect x="1131.90" y="155.8" width="1.2" height="55.1" fill="#e60000"/>
<rect x="1130.03" y="186.5" width="5.2" height="19.0" fill="#e60000"/>
<rect x="1137.90" y="151.9" width="1.2" height="72.6" fill="#e60000"/>
<rect x="1136.15" y="204.5" width="5.2" height="15.2" fill="#e60000"/>
<rect x="1143.90" y="202.1" width="1.2" height="34.1" fill="#e60000"/>
<rect x="1142.27" y="219.7" width="5.2" height="11.3" fill="#e60000"/>
<rect x="1149.90" y="213.4" width="1.2" height="17.6" fill="#2c8a55"/>
<rect x="1148.38" y="219.7" width="5.2" height="11.3" fill="#2c8a55"/>
<rect x="1156.90" y="193.0" width="1.2" height="29.7" fill="#2c8a55"/>
<rect x="1154.50" y="207.4" width="5.2" height="12.3" fill="#2c8a55"/>
<rect x="1162.90" y="172.2" width="1.2" height="79.3" fill="#e60000"/>
<rect x="1160.62" y="207.4" width="5.2" height="19.2" fill="#e60000"/>
<rect x="1168.90" y="218.4" width="1.2" height="47.3" fill="#e60000"/>
<rect x="1166.74" y="226.6" width="5.2" height="26.2" fill="#e60000"/>
<rect x="1174.90" y="244.2" width="1.2" height="65.2" fill="#e60000"/>
<rect x="1172.86" y="252.3" width="5.2" height="30.5" fill="#e60000"/>
<rect x="1180.90" y="272.2" width="1.2" height="43.4" fill="#e60000"/>
<rect x="1178.98" y="282.4" width="5.2" height="28.3" fill="#e60000"/>
<rect x="1186.90" y="306.8" width="1.2" height="10.4" fill="#e60000"/>
<rect x="1185.10" y="309.4" width="5.2" height="1.3" fill="#e60000"/>
<rect x="1192.90" y="284.3" width="1.2" height="24.5" fill="#2c8a55"/>
<rect x="1191.21" y="288.8" width="5.2" height="8.2" fill="#2c8a55"/>
<rect x="1198.90" y="268.1" width="1.2" height="42.2" fill="#2c8a55"/>
<rect x="1197.33" y="277.1" width="5.2" height="11.7" fill="#2c8a55"/>
<rect x="1205.90" y="244.8" width="1.2" height="40.5" fill="#e60000"/>
<rect x="1203.45" y="276.9" width="5.2" height="1.2" fill="#e60000"/>
<rect x="1211.90" y="230.1" width="1.2" height="48.0" fill="#2c8a55"/>
<rect x="1209.57" y="249.1" width="5.2" height="29.0" fill="#2c8a55"/>
<rect x="1217.90" y="202.7" width="1.2" height="57.8" fill="#2c8a55"/>
<rect x="1215.69" y="220.2" width="5.2" height="28.5" fill="#2c8a55"/>
<rect x="1223.90" y="219.0" width="1.2" height="37.5" fill="#e60000"/>
<rect x="1221.81" y="220.5" width="5.2" height="14.3" fill="#e60000"/>
<rect x="1229.90" y="214.4" width="1.2" height="30.4" fill="#2c8a55"/>
<rect x="1227.92" y="219.3" width="5.2" height="15.5" fill="#2c8a55"/>
<rect x="1235.90" y="193.3" width="1.2" height="41.1" fill="#2c8a55"/>
<rect x="1234.04" y="197.3" width="5.2" height="21.9" fill="#2c8a55"/>
<rect x="1241.90" y="192.4" width="1.2" height="41.5" fill="#e60000"/>
<rect x="1240.16" y="197.8" width="5.2" height="11.8" fill="#e60000"/>
<rect x="1247.90" y="189.0" width="1.2" height="81.2" fill="#e60000"/>
<rect x="1246.28" y="210.0" width="5.2" height="16.8" fill="#e60000"/>
<rect x="1253.90" y="190.8" width="1.2" height="42.2" fill="#2c8a55"/>
<rect x="1252.40" y="221.7" width="5.2" height="5.1" fill="#2c8a55"/>
<rect x="1260.90" y="213.5" width="1.2" height="13.1" fill="#2c8a55"/>
<rect x="1258.52" y="220.2" width="5.2" height="1.9" fill="#2c8a55"/>
<rect x="1266.90" y="210.0" width="1.2" height="23.0" fill="#2c8a55"/>
<rect x="1264.64" y="214.9" width="5.2" height="6.8" fill="#2c8a55"/>
<rect x="1272.90" y="214.3" width="1.2" height="28.5" fill="#e60000"/>
<rect x="1270.75" y="214.3" width="5.2" height="16.4" fill="#e60000"/>
<rect x="1278.90" y="180.2" width="1.2" height="60.9" fill="#2c8a55"/>
<rect x="1276.87" y="196.3" width="5.2" height="34.4" fill="#2c8a55"/>
<rect x="1284.90" y="151.7" width="1.2" height="47.1" fill="#2c8a55"/>
<rect x="1282.99" y="154.2" width="5.2" height="42.7" fill="#2c8a55"/>
</g>
<line x1="14" y1="154.2" x2="1420.5" y2="154.2" stroke="#2e8b57" stroke-width="1.5" stroke-dasharray="1.5 2.27" fill="none"/>
<g clip-path="url(#cd)">
<rect x="10.69" y="503.8" width="4.5" height="16.1" fill="#ffcdd2"/>
<rect x="16.81" y="503.8" width="4.5" height="12.2" fill="#ffcdd2"/>
<rect x="22.93" y="503.8" width="4.5" height="10.7" fill="#ffcdd2"/>
<rect x="29.05" y="503.8" width="4.5" height="7.7" fill="#ffcdd2"/>
<rect x="35.17" y="501.2" width="4.5" height="3.5" fill="#26a69a"/>
<rect x="41.29" y="493.9" width="4.5" height="10.8" fill="#26a69a"/>
<rect x="47.40" y="489.4" width="4.5" height="15.3" fill="#26a69a"/>
<rect x="53.52" y="489.4" width="4.5" height="15.3" fill="#b2dfdb"/>
<rect x="59.64" y="493.9" width="4.5" height="10.8" fill="#b2dfdb"/>
<rect x="65.76" y="502.1" width="4.5" height="2.6" fill="#b2dfdb"/>
<rect x="71.88" y="503.8" width="4.5" height="1.5" fill="#ff5252"/>
<rect x="78.00" y="503.8" width="4.5" height="7.1" fill="#ff5252"/>
<rect x="84.12" y="503.8" width="4.5" height="10.7" fill="#ff5252"/>
<rect x="90.23" y="503.8" width="4.5" height="16.5" fill="#ff5252"/>
<rect x="96.35" y="503.8" width="4.5" height="21.0" fill="#ff5252"/>
<rect x="102.47" y="503.8" width="4.5" height="23.0" fill="#ff5252"/>
<rect x="108.59" y="503.8" width="4.5" height="24.7" fill="#ff5252"/>
<rect x="114.71" y="503.8" width="4.5" height="25.3" fill="#ff5252"/>
<rect x="120.83" y="503.8" width="4.5" height="24.7" fill="#ffcdd2"/>
<rect x="126.94" y="503.8" width="4.5" height="23.4" fill="#ffcdd2"/>
<rect x="133.06" y="503.8" width="4.5" height="27.4" fill="#ff5252"/>
<rect x="139.18" y="503.8" width="4.5" height="27.4" fill="#ff5252"/>
<rect x="145.30" y="503.8" width="4.5" height="29.0" fill="#ff5252"/>
<rect x="151.42" y="503.8" width="4.5" height="32.9" fill="#ff5252"/>
<rect x="157.54" y="503.8" width="4.5" height="35.8" fill="#ff5252"/>
<rect x="163.66" y="503.8" width="4.5" height="35.0" fill="#ffcdd2"/>
<rect x="169.77" y="503.8" width="4.5" height="29.0" fill="#ffcdd2"/>
<rect x="175.89" y="503.8" width="4.5" height="24.7" fill="#ffcdd2"/>
<rect x="182.01" y="503.8" width="4.5" height="26.7" fill="#ff5252"/>
<rect x="188.13" y="503.8" width="4.5" height="24.9" fill="#ffcdd2"/>
<rect x="194.25" y="503.8" width="4.5" height="23.5" fill="#ffcdd2"/>
<rect x="200.37" y="503.8" width="4.5" height="20.3" fill="#ffcdd2"/>
<rect x="206.49" y="503.8" width="4.5" height="18.4" fill="#ffcdd2"/>
<rect x="212.60" y="503.8" width="4.5" height="12.9" fill="#ffcdd2"/>
<rect x="218.72" y="503.8" width="4.5" height="7.6" fill="#ffcdd2"/>
<rect x="224.84" y="503.8" width="4.5" height="2.7" fill="#ffcdd2"/>
<rect x="230.96" y="502.9" width="4.5" height="1.8" fill="#26a69a"/>
<rect x="237.08" y="500.9" width="4.5" height="3.8" fill="#26a69a"/>
<rect x="243.20" y="500.2" width="4.5" height="4.5" fill="#26a69a"/>
<rect x="249.31" y="497.1" width="4.5" height="7.6" fill="#26a69a"/>
<rect x="255.43" y="499.5" width="4.5" height="5.2" fill="#b2dfdb"/>
<rect x="261.55" y="503.2" width="4.5" height="1.5" fill="#b2dfdb"/>
<rect x="267.67" y="503.8" width="4.5" height="1.1" fill="#ff5252"/>
<rect x="273.79" y="503.8" width="4.5" height="2.1" fill="#ff5252"/>
<rect x="279.91" y="503.8" width="4.5" height="2.8" fill="#ff5252"/>
<rect x="286.03" y="503.8" width="4.5" height="1.6" fill="#ffcdd2"/>
<rect x="292.14" y="502.4" width="4.5" height="2.3" fill="#26a69a"/>
<rect x="298.26" y="500.6" width="4.5" height="4.1" fill="#26a69a"/>
<rect x="304.38" y="500.0" width="4.5" height="4.7" fill="#26a69a"/>
<rect x="310.50" y="498.2" width="4.5" height="6.5" fill="#26a69a"/>
<rect x="316.62" y="497.3" width="4.5" height="7.4" fill="#26a69a"/>
<rect x="322.74" y="498.2" width="4.5" height="6.5" fill="#b2dfdb"/>
<rect x="328.86" y="501.9" width="4.5" height="2.8" fill="#b2dfdb"/>
<rect x="334.97" y="503.8" width="4.5" height="5.0" fill="#ff5252"/>
<rect x="341.09" y="503.8" width="4.5" height="7.1" fill="#ff5252"/>
<rect x="347.21" y="503.8" width="4.5" height="5.0" fill="#ffcdd2"/>
<rect x="353.33" y="503.8" width="4.5" height="2.6" fill="#ffcdd2"/>
<rect x="359.45" y="502.9" width="4.5" height="1.8" fill="#26a69a"/>
<rect x="365.57" y="503.5" width="4.5" height="1.2" fill="#b2dfdb"/>
<rect x="371.68" y="502.5" width="4.5" height="2.2" fill="#26a69a"/>
<rect x="377.80" y="502.5" width="4.5" height="2.2" fill="#26a69a"/>
<rect x="383.92" y="503.5" width="4.5" height="1.2" fill="#b2dfdb"/>
<rect x="390.04" y="501.2" width="4.5" height="3.5" fill="#26a69a"/>
<rect x="396.16" y="496.8" width="4.5" height="7.9" fill="#26a69a"/>
<rect x="402.28" y="488.5" width="4.5" height="16.2" fill="#26a69a"/>
<rect x="408.40" y="482.8" width="4.5" height="21.9" fill="#26a69a"/>
<rect x="414.51" y="480.3" width="4.5" height="24.4" fill="#26a69a"/>
<rect x="420.63" y="477.9" width="4.5" height="26.8" fill="#26a69a"/>
<rect x="426.75" y="477.3" width="4.5" height="27.4" fill="#26a69a"/>
<rect x="432.87" y="475.4" width="4.5" height="29.3" fill="#26a69a"/>
<rect x="438.99" y="475.0" width="4.5" height="29.7" fill="#26a69a"/>
<rect x="445.11" y="475.0" width="4.5" height="29.7" fill="#26a69a"/>
<rect x="451.23" y="476.3" width="4.5" height="28.4" fill="#b2dfdb"/>
<rect x="457.34" y="479.3" width="4.5" height="25.4" fill="#b2dfdb"/>
<rect x="463.46" y="483.2" width="4.5" height="21.5" fill="#b2dfdb"/>
<rect x="469.58" y="483.2" width="4.5" height="21.5" fill="#b2dfdb"/>
<rect x="475.70" y="484.2" width="4.5" height="20.5" fill="#b2dfdb"/>
<rect x="481.82" y="485.1" width="4.5" height="19.6" fill="#b2dfdb"/>
<rect x="487.94" y="488.1" width="4.5" height="16.6" fill="#b2dfdb"/>
<rect x="494.05" y="488.5" width="4.5" height="16.2" fill="#b2dfdb"/>
<rect x="500.17" y="488.5" width="4.5" height="16.2" fill="#b2dfdb"/>
<rect x="506.29" y="491.4" width="4.5" height="13.3" fill="#b2dfdb"/>
<rect x="512.41" y="497.9" width="4.5" height="6.8" fill="#b2dfdb"/>
<rect x="518.53" y="501.4" width="4.5" height="3.3" fill="#b2dfdb"/>
<rect x="524.65" y="503.8" width="4.5" height="2.3" fill="#ff5252"/>
<rect x="530.77" y="503.8" width="4.5" height="6.4" fill="#ff5252"/>
<rect x="536.88" y="503.8" width="4.5" height="10.7" fill="#ff5252"/>
<rect x="543.00" y="503.8" width="4.5" height="10.1" fill="#ffcdd2"/>
<rect x="549.12" y="503.8" width="4.5" height="12.0" fill="#ff5252"/>
<rect x="555.24" y="503.8" width="4.5" height="15.6" fill="#ff5252"/>
<rect x="561.36" y="503.8" width="4.5" height="17.9" fill="#ff5252"/>
<rect x="567.48" y="503.8" width="4.5" height="17.1" fill="#ffcdd2"/>
<rect x="573.60" y="503.8" width="4.5" height="16.5" fill="#ffcdd2"/>
<rect x="579.71" y="503.8" width="4.5" height="15.6" fill="#ffcdd2"/>
<rect x="585.83" y="503.8" width="4.5" height="16.5" fill="#ff5252"/>
<rect x="591.95" y="503.8" width="4.5" height="17.1" fill="#ff5252"/>
<rect x="598.07" y="503.8" width="4.5" height="17.9" fill="#ff5252"/>
<rect x="604.19" y="503.8" width="4.5" height="19.1" fill="#ff5252"/>
<rect x="610.31" y="503.8" width="4.5" height="19.5" fill="#ff5252"/>
<rect x="616.42" y="503.8" width="4.5" height="17.9" fill="#ffcdd2"/>
<rect x="622.54" y="503.8" width="4.5" height="15.0" fill="#ffcdd2"/>
<rect x="628.66" y="503.8" width="4.5" height="12.6" fill="#ffcdd2"/>
<rect x="634.78" y="503.8" width="4.5" height="10.1" fill="#ffcdd2"/>
<rect x="640.90" y="503.8" width="4.5" height="3.8" fill="#ffcdd2"/>
<rect x="647.02" y="501.4" width="4.5" height="3.3" fill="#26a69a"/>
<rect x="653.14" y="493.0" width="4.5" height="11.7" fill="#26a69a"/>
<rect x="659.25" y="489.4" width="4.5" height="15.3" fill="#26a69a"/>
<rect x="665.37" y="486.5" width="4.5" height="18.2" fill="#26a69a"/>
<rect x="671.49" y="484.6" width="4.5" height="20.1" fill="#26a69a"/>
<rect x="677.61" y="484.6" width="4.5" height="20.1" fill="#b2dfdb"/>
<rect x="683.73" y="486.5" width="4.5" height="18.2" fill="#b2dfdb"/>
<rect x="689.85" y="490.0" width="4.5" height="14.7" fill="#b2dfdb"/>
<rect x="695.96" y="495.5" width="4.5" height="9.2" fill="#b2dfdb"/>
<rect x="702.08" y="499.8" width="4.5" height="4.9" fill="#b2dfdb"/>
<rect x="708.20" y="502.4" width="4.5" height="2.3" fill="#b2dfdb"/>
<rect x="714.32" y="503.8" width="4.5" height="2.3" fill="#ff5252"/>
<rect x="720.44" y="503.8" width="4.5" height="3.4" fill="#ff5252"/>
<rect x="726.56" y="503.8" width="4.5" height="2.3" fill="#ffcdd2"/>
<rect x="732.68" y="499.2" width="4.5" height="5.5" fill="#26a69a"/>
<rect x="738.79" y="492.0" width="4.5" height="12.7" fill="#26a69a"/>
<rect x="744.91" y="487.1" width="4.5" height="17.6" fill="#26a69a"/>
<rect x="751.03" y="484.2" width="4.5" height="20.5" fill="#26a69a"/>
<rect x="757.15" y="481.8" width="4.5" height="22.9" fill="#26a69a"/>
<rect x="763.27" y="482.2" width="4.5" height="22.5" fill="#b2dfdb"/>
<rect x="769.39" y="485.5" width="4.5" height="19.2" fill="#b2dfdb"/>
<rect x="775.51" y="492.0" width="4.5" height="12.7" fill="#b2dfdb"/>
<rect x="781.62" y="498.8" width="4.5" height="5.9" fill="#b2dfdb"/>
<rect x="787.74" y="503.8" width="4.5" height="1.9" fill="#ff5252"/>
<rect x="793.86" y="503.8" width="4.5" height="7.4" fill="#ff5252"/>
<rect x="799.98" y="503.8" width="4.5" height="13.0" fill="#ff5252"/>
<rect x="806.10" y="503.8" width="4.5" height="15.0" fill="#ff5252"/>
<rect x="812.22" y="503.8" width="4.5" height="14.0" fill="#ffcdd2"/>
<rect x="818.34" y="503.8" width="4.5" height="12.2" fill="#ffcdd2"/>
<rect x="824.45" y="503.8" width="4.5" height="16.9" fill="#ff5252"/>
<rect x="830.57" y="503.8" width="4.5" height="20.1" fill="#ff5252"/>
<rect x="836.69" y="503.8" width="4.5" height="22.0" fill="#ff5252"/>
<rect x="842.81" y="503.8" width="4.5" height="20.1" fill="#ffcdd2"/>
<rect x="848.93" y="503.8" width="4.5" height="19.1" fill="#ffcdd2"/>
<rect x="855.05" y="503.8" width="4.5" height="17.9" fill="#ffcdd2"/>
<rect x="861.16" y="503.8" width="4.5" height="16.5" fill="#ffcdd2"/>
<rect x="867.28" y="503.8" width="4.5" height="17.5" fill="#ff5252"/>
<rect x="873.40" y="503.8" width="4.5" height="14.0" fill="#ffcdd2"/>
<rect x="879.52" y="503.8" width="4.5" height="7.2" fill="#ffcdd2"/>
<rect x="885.64" y="503.8" width="4.5" height="2.3" fill="#ffcdd2"/>
<rect x="891.76" y="503.3" width="4.5" height="1.4" fill="#26a69a"/>
<rect x="897.88" y="503.9" width="4.5" height="0.9" fill="#b2dfdb"/>
<rect x="903.99" y="503.8" width="4.5" height="1.9" fill="#ff5252"/>
<rect x="910.11" y="503.8" width="4.5" height="3.8" fill="#ff5252"/>
<rect x="916.23" y="503.7" width="4.5" height="1.0" fill="#26a69a"/>
<rect x="922.35" y="500.4" width="4.5" height="4.3" fill="#26a69a"/>
<rect x="928.47" y="497.5" width="4.5" height="7.2" fill="#26a69a"/>
<rect x="934.59" y="493.6" width="4.5" height="11.1" fill="#26a69a"/>
<rect x="940.70" y="495.5" width="4.5" height="9.2" fill="#b2dfdb"/>
<rect x="946.82" y="494.9" width="4.5" height="9.8" fill="#26a69a"/>
<rect x="952.94" y="494.3" width="4.5" height="10.4" fill="#26a69a"/>
<rect x="959.06" y="494.9" width="4.5" height="9.8" fill="#b2dfdb"/>
<rect x="965.18" y="494.9" width="4.5" height="9.8" fill="#b2dfdb"/>
<rect x="971.30" y="498.8" width="4.5" height="5.9" fill="#b2dfdb"/>
<rect x="977.42" y="497.9" width="4.5" height="6.8" fill="#26a69a"/>
<rect x="983.53" y="494.9" width="4.5" height="9.8" fill="#26a69a"/>
<rect x="989.65" y="493.9" width="4.5" height="10.8" fill="#26a69a"/>
<rect x="995.77" y="492.0" width="4.5" height="12.7" fill="#26a69a"/>
<rect x="1001.89" y="492.6" width="4.5" height="12.1" fill="#b2dfdb"/>
<rect x="1008.01" y="492.0" width="4.5" height="12.7" fill="#26a69a"/>
<rect x="1014.13" y="491.4" width="4.5" height="13.3" fill="#26a69a"/>
<rect x="1020.25" y="495.3" width="4.5" height="9.4" fill="#b2dfdb"/>
<rect x="1026.36" y="501.2" width="4.5" height="3.5" fill="#b2dfdb"/>
<rect x="1032.48" y="503.8" width="4.5" height="3.4" fill="#ff5252"/>
<rect x="1038.60" y="503.8" width="4.5" height="6.4" fill="#ff5252"/>
<rect x="1044.72" y="503.8" width="4.5" height="8.3" fill="#ff5252"/>
<rect x="1050.84" y="503.8" width="4.5" height="7.7" fill="#ffcdd2"/>
<rect x="1056.96" y="503.8" width="4.5" height="6.8" fill="#ffcdd2"/>
<rect x="1063.08" y="503.8" width="4.5" height="9.7" fill="#ff5252"/>
<rect x="1069.19" y="503.8" width="4.5" height="16.0" fill="#ff5252"/>
<rect x="1075.31" y="503.8" width="4.5" height="21.8" fill="#ff5252"/>
<rect x="1081.43" y="503.8" width="4.5" height="23.4" fill="#ff5252"/>
<rect x="1087.55" y="503.8" width="4.5" height="18.9" fill="#ffcdd2"/>
<rect x="1093.67" y="503.8" width="4.5" height="8.7" fill="#ffcdd2"/>
<rect x="1099.79" y="503.9" width="4.5" height="0.9" fill="#26a69a"/>
<rect x="1105.90" y="496.3" width="4.5" height="8.4" fill="#26a69a"/>
<rect x="1112.02" y="492.0" width="4.5" height="12.7" fill="#26a69a"/>
<rect x="1118.14" y="490.6" width="4.5" height="14.1" fill="#26a69a"/>
<rect x="1124.26" y="493.9" width="4.5" height="10.8" fill="#b2dfdb"/>
<rect x="1130.38" y="497.9" width="4.5" height="6.8" fill="#b2dfdb"/>
<rect x="1136.50" y="502.7" width="4.5" height="2.0" fill="#b2dfdb"/>
<rect x="1142.62" y="503.8" width="4.5" height="2.9" fill="#ff5252"/>
<rect x="1148.73" y="503.8" width="4.5" height="3.8" fill="#ff5252"/>
<rect x="1154.85" y="503.8" width="4.5" height="2.5" fill="#ffcdd2"/>
<rect x="1160.97" y="503.8" width="4.5" height="5.4" fill="#ff5252"/>
<rect x="1167.09" y="503.8" width="4.5" height="8.3" fill="#ff5252"/>
<rect x="1173.21" y="503.8" width="4.5" height="13.2" fill="#ff5252"/>
<rect x="1179.33" y="503.8" width="4.5" height="19.1" fill="#ff5252"/>
<rect x="1185.44" y="503.8" width="4.5" height="21.0" fill="#ff5252"/>
<rect x="1191.56" y="503.8" width="4.5" height="19.1" fill="#ffcdd2"/>
<rect x="1197.68" y="503.8" width="4.5" height="15.2" fill="#ffcdd2"/>
<rect x="1203.80" y="503.8" width="4.5" height="12.0" fill="#ffcdd2"/>
<rect x="1209.92" y="503.8" width="4.5" height="6.4" fill="#ffcdd2"/>
<rect x="1216.04" y="502.7" width="4.5" height="2.0" fill="#26a69a"/>
<rect x="1222.16" y="499.4" width="4.5" height="5.3" fill="#26a69a"/>
<rect x="1228.27" y="495.8" width="4.5" height="8.9" fill="#26a69a"/>
<rect x="1234.39" y="491.4" width="4.5" height="13.3" fill="#26a69a"/>
<rect x="1240.51" y="490.7" width="4.5" height="14.0" fill="#26a69a"/>
<rect x="1246.63" y="492.6" width="4.5" height="12.1" fill="#b2dfdb"/>
<rect x="1252.75" y="493.4" width="4.5" height="11.3" fill="#b2dfdb"/>
<rect x="1258.87" y="494.5" width="4.5" height="10.2" fill="#b2dfdb"/>
<rect x="1264.99" y="495.1" width="4.5" height="9.6" fill="#b2dfdb"/>
<rect x="1271.10" y="497.9" width="4.5" height="6.8" fill="#b2dfdb"/>
<rect x="1277.22" y="495.8" width="4.5" height="8.9" fill="#26a69a"/>
<rect x="1283.34" y="489.9" width="4.5" height="14.8" fill="#26a69a"/>
</g>
<g clip-path="url(#cd)" fill="none" stroke-linejoin="round" stroke-linecap="round">
<path d="M13.9 480.3 L21.7 479.7 L31.5 479.3 L39.3 465.6 L47.5 450.5 M63.5 450.5 L64.8 451.9 L68.7 455.8 L76.5 459.7 L88.2 475.4 L98.0 489.1 L107.8 501.8 L117.6 512.5 L129.3 522.3 L135.9 533.8 L142.7 540.6 L149.6 554.3 L157.4 569.0 L165.2 579.7 L172.0 580.7 L177.9 583.1 L184.8 591.5 L192.6 597.9 M220.9 597.9 L227.8 593.4 L238.5 586.6 L245.4 584.6 L251.3 579.7 L258.1 581.3 L264.0 584.6 L270.8 585.6 L281.6 588.5 L288.4 587.2 L295.3 583.7 L306.0 579.7 L313.8 575.8 L318.7 572.9 L324.6 572.3 L331.4 575.4 L337.3 582.7 L344.2 587.2 L355.9 584.6 L361.8 581.3 L370.6 580.7 L379.4 579.2 L386.2 580.1 L392.1 576.8 L398.9 570.0 L405.9 554.6 L413.7 541.9 L422.5 528.2 L429.3 521.9 L435.2 512.2 L442.0 503.7 L448.9 495.9 L458.7 488.7 L464.5 486.7 L471.4 480.9 L478.2 476.4 L486.1 473.4 L495.8 469.1 L502.7 464.2 L507.6 464.0 L515.4 468.5 L525.2 474.4 L533.0 482.2 L539.8 489.1 L544.7 490.0 L552.6 495.9 L559.4 502.8 L564.3 509.0 L570.2 512.5 L576.0 516.1 L582.9 519.4 L591.7 526.2 L599.5 532.1 L607.3 538.9 L613.2 543.8 L619.0 546.2 L626.9 547.7 L636.6 548.1 L644.5 541.9 L651.3 532.1 L658.2 521.3 L666.0 510.6 L673.8 500.8 L681.6 495.9 L688.5 494.4 L697.8 497.9 L705.6 499.4 L711.5 501.2 L715.4 506.3 L721.3 508.6 L729.1 508.6 L735.0 499.2 L740.9 488.7 L746.7 479.7 L754.5 471.5 L760.4 463.3 L764.3 458.8 L771.2 457.4 L778.0 461.3 L785.8 467.6 L795.6 479.3 L802.5 489.1 L809.3 494.0 L815.2 496.5 L820.1 497.5 L826.9 505.7 L834.7 516.5 L842.6 523.9 L850.4 527.2 L858.2 531.5 L866.0 535.6 L869.9 537.6 L874.8 538.0 L881.7 533.1 L889.5 527.8 L895.4 525.3 L900.2 525.3 L907.1 527.2 L912.6 529.2 L917.8 526.2 L926.6 520.4 L937.4 510.6 L943.3 510.6 L954.0 504.7 L960.9 502.8 L967.7 500.4 L973.6 502.4 L979.5 500.4 L987.8 494.0 L998.6 485.2 L1009.3 479.7 L1016.2 475.8 L1023.0 477.3 L1032.8 489.1 L1046.5 497.3 L1058.2 498.9 L1066.1 504.7 L1075.8 523.3 L1084.6 533.1 L1088.5 533.1 L1095.4 525.3 L1103.2 511.6 L1113.0 497.9 L1120.8 493.4 L1126.7 493.6 L1134.5 496.9 L1142.3 502.4 L1149.2 506.3 L1156.0 506.1 L1162.9 508.6 L1169.7 515.5 L1177.5 527.2 L1187.3 540.3 L1194.2 543.1 L1204.9 542.9 L1211.8 538.9 L1217.6 530.1 L1224.5 525.6 L1227.8 521.8 L1233.0 516.0 L1238.2 510.8 L1242.8 507.5 L1248.6 506.6 L1255.2 504.3 L1261.7 502.7 L1266.9 501.7 L1272.7 502.1 L1277.3 499.7 L1281.2 495.8 L1285.5 488.9" stroke="#2196f3" stroke-width="1.5"/>
<path d="M13.9 465.6 C16.5 467.2 15.8 468.2 21.7 470.5 C27.6 472.8 25.6 472.7 31.5 472.4 C37.4 472.1 33.4 472.7 39.3 469.5 C45.2 466.3 42.6 466.3 49.1 462.7 C55.6 459.1 52.4 460.4 58.9 458.8 C65.4 457.2 62.2 457.5 68.7 457.8 C75.2 458.1 72.0 457.4 78.5 459.7 C85.0 462.0 81.7 460.0 88.2 464.6 C94.7 469.2 91.5 467.5 98.0 473.4 C104.5 479.3 101.3 476.3 107.8 482.2 C114.3 488.1 111.1 485.1 117.6 491.0 C124.1 496.9 120.6 493.0 127.3 499.8 C134.0 506.6 131.7 503.9 137.8 511.3 C143.9 518.7 139.7 513.9 145.6 522.0 C151.5 530.1 148.9 527.5 155.4 535.7 C161.9 543.9 158.7 539.6 165.2 546.5 C171.7 553.4 168.5 550.1 175.0 556.3 C181.5 562.5 177.6 558.3 184.8 565.1 C192.0 571.9 188.7 570.0 196.5 576.8 C204.3 583.6 201.0 581.2 208.2 585.6 C215.4 590.0 211.5 587.9 218.0 589.9 C224.5 591.9 221.3 591.3 227.8 591.5 C234.3 591.7 231.1 591.5 237.6 590.5 C244.1 589.5 240.8 589.9 247.3 588.5 C253.8 587.1 250.6 587.2 257.1 586.2 C263.6 585.2 260.4 585.6 266.9 585.6 C273.4 585.6 270.2 585.9 276.7 586.2 C283.2 586.5 280.0 586.8 286.5 586.6 C293.0 586.4 289.7 586.6 296.2 585.6 C302.7 584.6 299.5 585.3 306.0 583.7 C312.5 582.1 309.3 582.3 315.8 580.7 C322.3 579.1 320.3 579.6 325.6 578.8 C330.9 578.0 327.2 578.1 331.8 578.4 C336.4 578.7 333.6 578.6 339.3 579.7 C345.0 580.8 342.5 580.9 349.0 581.7 C355.5 582.5 352.3 582.1 358.8 582.1 C365.3 582.1 362.1 582.0 368.6 581.7 C375.1 581.4 371.9 581.4 378.4 581.1 C384.9 580.8 381.7 581.6 388.2 580.7 C394.7 579.8 392.0 580.8 397.9 578.4 C403.8 576.0 401.8 576.2 405.8 573.5 C409.8 570.8 405.2 574.9 409.8 570.2 C414.4 565.5 413.1 566.7 419.6 559.5 C426.1 552.3 422.8 556.2 429.3 548.7 C435.8 541.2 432.6 544.8 439.1 537.0 C445.6 529.2 442.4 532.8 448.9 525.3 C455.4 517.8 452.2 521.2 458.7 514.5 C465.2 507.8 462.0 511.0 468.5 505.1 C475.0 499.2 471.7 502.1 478.2 496.9 C484.7 491.7 481.5 494.1 488.0 489.5 C494.5 484.9 491.3 487.3 497.8 483.2 C504.3 479.1 501.1 480.0 507.6 477.3 C514.1 474.6 511.4 476.0 517.3 475.0 C523.2 474.0 519.3 473.8 525.2 474.4 C531.1 475.0 528.5 474.7 535.0 476.9 C541.5 479.1 537.5 477.6 544.7 480.9 C551.9 484.2 549.3 482.5 556.5 486.7 C563.7 490.9 559.7 489.2 566.2 493.4 C572.7 497.6 569.5 495.1 576.0 499.2 C582.5 503.3 579.3 501.4 585.8 505.7 C592.3 510.0 589.1 507.8 595.6 512.2 C602.1 516.6 598.9 514.1 605.4 518.8 C611.9 523.5 608.6 521.8 615.1 526.2 C621.6 530.6 618.4 528.5 624.9 532.1 C631.4 535.7 628.8 534.7 634.7 537.0 C640.6 539.3 637.3 538.7 642.5 538.9 C647.7 539.1 645.1 539.2 650.3 537.6 C655.5 536.0 652.3 537.6 658.2 534.1 C664.1 530.6 661.4 532.4 667.9 527.2 C674.4 522.0 671.2 523.8 677.7 518.4 C684.2 513.0 680.8 514.9 687.5 511.0 C694.2 507.1 691.1 508.8 697.8 506.7 C704.5 504.6 701.1 505.2 707.6 504.7 C714.1 504.2 710.9 504.8 717.4 505.3 C723.9 505.8 721.3 506.5 727.2 506.3 C733.1 506.1 729.1 507.1 735.0 504.7 C740.9 502.3 738.9 503.0 744.8 499.2 C750.7 495.4 747.4 498.1 752.6 493.4 C757.8 488.7 755.2 490.2 760.4 485.2 C765.6 480.2 762.7 482.4 768.2 478.3 C773.7 474.2 771.1 475.3 777.0 473.0 C782.9 470.7 779.6 471.4 785.8 471.5 C792.0 471.6 789.1 470.8 795.6 473.4 C802.1 476.0 798.9 475.7 805.4 479.3 C811.9 482.9 808.0 480.6 815.2 484.2 C822.4 487.8 819.7 485.2 826.9 490.0 C834.1 494.8 830.2 493.3 836.7 498.5 C843.2 503.7 840.0 501.1 846.5 505.7 C853.0 510.3 849.7 507.8 856.2 512.2 C862.7 516.6 859.5 514.6 866.0 518.8 C872.5 523.0 869.3 522.1 875.8 524.7 C882.3 527.3 879.1 526.1 885.6 526.6 C892.1 527.1 888.9 526.2 895.4 526.2 C901.9 526.2 898.6 526.3 905.1 526.6 C911.6 526.9 908.4 527.5 914.9 527.2 C921.4 526.9 918.2 527.2 924.7 525.6 C931.2 524.0 928.0 524.7 934.5 522.3 C941.0 519.9 937.8 521.0 944.3 518.4 C950.8 515.8 947.5 517.1 954.0 514.5 C960.5 511.9 957.3 512.9 963.8 510.6 C970.3 508.3 967.7 509.3 973.6 507.7 C979.5 506.1 976.0 507.7 981.4 505.7 C986.8 503.7 983.7 504.7 989.8 501.8 C995.9 498.9 993.1 500.2 999.6 496.9 C1006.1 493.6 1002.8 495.3 1009.3 492.0 C1015.8 488.7 1012.6 489.2 1019.1 487.1 C1025.6 485.0 1022.4 485.6 1028.9 485.6 C1035.4 485.6 1032.2 485.6 1038.7 487.1 C1045.2 488.6 1042.0 488.2 1048.5 490.0 C1055.0 491.8 1052.3 490.8 1058.2 492.6 C1064.1 494.4 1060.9 492.4 1066.1 495.5 C1071.3 498.6 1068.7 497.1 1073.9 501.8 C1079.1 506.5 1076.5 505.4 1081.7 509.6 C1086.9 513.8 1084.3 512.2 1089.5 514.5 C1094.7 516.8 1091.4 516.4 1097.3 516.5 C1103.2 516.6 1100.6 517.2 1107.1 514.9 C1113.6 512.6 1110.4 512.9 1116.9 509.6 C1123.4 506.3 1120.2 507.4 1126.7 505.1 C1133.2 502.8 1130.0 503.4 1136.5 502.8 C1143.0 502.2 1139.7 502.7 1146.2 503.2 C1152.7 503.7 1149.5 503.1 1156.0 504.3 C1162.5 505.5 1159.3 504.5 1165.8 506.7 C1172.3 508.9 1169.1 507.2 1175.6 511.0 C1182.1 514.8 1178.9 513.2 1185.4 518.0 C1191.9 522.8 1188.6 521.1 1195.1 525.3 C1201.6 529.5 1199.0 528.1 1204.9 530.5 C1210.8 532.9 1207.7 532.1 1212.7 532.5 C1217.7 532.9 1215.8 532.3 1220.0 531.6 C1224.2 530.9 1221.7 531.5 1225.2 530.3 C1228.7 529.1 1226.5 529.8 1230.4 528.0 C1234.3 526.2 1232.6 527.1 1236.9 524.8 C1241.2 522.5 1238.6 523.6 1243.4 521.2 C1248.2 518.8 1246.1 520.1 1251.3 517.7 C1256.5 515.3 1253.9 516.2 1259.1 514.0 C1264.3 511.8 1261.7 513.0 1266.9 511.2 C1272.1 509.4 1270.4 510.1 1274.7 508.6 C1279.0 507.1 1276.3 508.4 1279.9 506.6 C1283.5 504.8 1283.6 504.3 1285.5 503.2" stroke="#ff6d00" stroke-width="1.5"/>
</g>
<text x="25.9" y="41.6" font-size="16.5" fill="#131722" stroke="#131722" stroke-width="0.3" text-anchor="start" textLength="71.0" lengthAdjust="spacingAndGlyphs">USD/CHF</text>
<text x="103.6" y="41.6" font-size="16.5" fill="#131722" stroke="#131722" stroke-width="0.3" text-anchor="start" textLength="39.1" lengthAdjust="spacingAndGlyphs">Spot,</text>
<text x="150.5" y="41.6" font-size="16.5" fill="#131722" stroke="#131722" stroke-width="0.3" text-anchor="start" textLength="17.6" lengthAdjust="spacingAndGlyphs">4h</text>
<text x="179.1" y="41.6" font-size="16.5" fill="#131722" stroke="#131722" stroke-width="0.3" text-anchor="start" textLength="10.9" lengthAdjust="spacingAndGlyphs">O</text>
<text x="267.6" y="41.6" font-size="16.5" fill="#131722" stroke="#131722" stroke-width="0.3" text-anchor="start" textLength="8.9" lengthAdjust="spacingAndGlyphs">H</text>
<text x="352.3" y="41.6" font-size="16.5" fill="#131722" stroke="#131722" stroke-width="0.3" text-anchor="start" textLength="6.9" lengthAdjust="spacingAndGlyphs">L</text>
<text x="435.3" y="41.6" font-size="16.5" fill="#131722" stroke="#131722" stroke-width="0.3" text-anchor="start" textLength="9.9" lengthAdjust="spacingAndGlyphs">C</text>
<text x="191.9" y="41.6" font-size="16.5" fill="#2c8a55" stroke="#2c8a55" stroke-width="0.3" text-anchor="start" textLength="64.0" lengthAdjust="spacingAndGlyphs">0.84783</text>
<text x="278.3" y="41.6" font-size="16.5" fill="#2c8a55" stroke="#2c8a55" stroke-width="0.3" text-anchor="start" textLength="63.5" lengthAdjust="spacingAndGlyphs">0.85061</text>
<text x="360.7" y="41.6" font-size="16.5" fill="#2c8a55" stroke="#2c8a55" stroke-width="0.3" text-anchor="start" textLength="62.6" lengthAdjust="spacingAndGlyphs">0.84767</text>
<text x="447.2" y="41.6" font-size="16.5" fill="#2c8a55" stroke="#2c8a55" stroke-width="0.3" text-anchor="start" textLength="63.8" lengthAdjust="spacingAndGlyphs">0.85047</text>
<text x="522.4" y="41.6" font-size="16.5" fill="#2c8a55" stroke="#2c8a55" stroke-width="0.3" text-anchor="start" textLength="149.8" lengthAdjust="spacingAndGlyphs">+0.00264 (+0.31%)</text>
<text x="25.9" y="64.8" font-size="16.5" fill="#131722" stroke="#131722" stroke-width="0.3" text-anchor="start" textLength="23.8" lengthAdjust="spacingAndGlyphs">MA</text>
<text x="56.7" y="64.8" font-size="16.5" fill="#131722" stroke="#131722" stroke-width="0.3" text-anchor="start" textLength="28.1" lengthAdjust="spacingAndGlyphs">(50,</text>
<text x="91.9" y="64.8" font-size="16.5" fill="#131722" stroke="#131722" stroke-width="0.3" text-anchor="start" textLength="44.5" lengthAdjust="spacingAndGlyphs">close,</text>
<text x="143.4" y="64.8" font-size="16.5" fill="#131722" stroke="#131722" stroke-width="0.3" text-anchor="start" textLength="14.1" lengthAdjust="spacingAndGlyphs">0)</text>
<text x="169.7" y="64.8" font-size="16.5" fill="#f23645" stroke="#f23645" stroke-width="0.3" text-anchor="start" textLength="64.4" lengthAdjust="spacingAndGlyphs">0.84665</text>
<text x="25.9" y="88.2" font-size="16.5" fill="#131722" stroke="#131722" stroke-width="0.3" text-anchor="start" textLength="23.8" lengthAdjust="spacingAndGlyphs">MA</text>
<text x="56.7" y="88.2" font-size="16.5" fill="#131722" stroke="#131722" stroke-width="0.3" text-anchor="start" textLength="38.0" lengthAdjust="spacingAndGlyphs">(200,</text>
<text x="102.0" y="88.2" font-size="16.5" fill="#131722" stroke="#131722" stroke-width="0.3" text-anchor="start" textLength="44.3" lengthAdjust="spacingAndGlyphs">close,</text>
<text x="152.8" y="88.2" font-size="16.5" fill="#131722" stroke="#131722" stroke-width="0.3" text-anchor="start" textLength="14.1" lengthAdjust="spacingAndGlyphs">0)</text>
<text x="179.4" y="88.2" font-size="16.5" fill="#089981" stroke="#089981" stroke-width="0.3" text-anchor="start" textLength="65.3" lengthAdjust="spacingAndGlyphs">0.84863</text>
<text x="25.9" y="111.6" font-size="16.5" fill="#131722" stroke="#131722" stroke-width="0.3" text-anchor="start" textLength="23.8" lengthAdjust="spacingAndGlyphs">MA</text>
<text x="56.7" y="111.6" font-size="16.5" fill="#131722" stroke="#131722" stroke-width="0.3" text-anchor="start" textLength="36.0" lengthAdjust="spacingAndGlyphs">(100,</text>
<text x="99.7" y="111.6" font-size="16.5" fill="#131722" stroke="#131722" stroke-width="0.3" text-anchor="start" textLength="44.5" lengthAdjust="spacingAndGlyphs">close,</text>
<text x="151.3" y="111.6" font-size="16.5" fill="#131722" stroke="#131722" stroke-width="0.3" text-anchor="start" textLength="13.2" lengthAdjust="spacingAndGlyphs">0)</text>
<text x="177.0" y="111.6" font-size="16.5" fill="#2222ee" stroke="#2222ee" stroke-width="0.3" text-anchor="start" textLength="61.0" lengthAdjust="spacingAndGlyphs">0.84710</text>
<text x="25.7" y="479.9" font-size="16.5" fill="#131722" stroke="#131722" stroke-width="0.3" text-anchor="start" textLength="47.9" lengthAdjust="spacingAndGlyphs">MACD</text>
<text x="80.4" y="479.9" font-size="16.5" fill="#131722" stroke="#131722" stroke-width="0.3" text-anchor="start" textLength="26.4" lengthAdjust="spacingAndGlyphs">(12,</text>
<text x="112.7" y="479.9" font-size="16.5" fill="#131722" stroke="#131722" stroke-width="0.3" text-anchor="start" textLength="22.5" lengthAdjust="spacingAndGlyphs">26,</text>
<text x="142.0" y="479.9" font-size="16.5" fill="#131722" stroke="#131722" stroke-width="0.3" text-anchor="start" textLength="47.0" lengthAdjust="spacingAndGlyphs">close,</text>
<text x="193.8" y="479.9" font-size="16.5" fill="#131722" stroke="#131722" stroke-width="0.3" text-anchor="start" textLength="13.7" lengthAdjust="spacingAndGlyphs">9)</text>
<text x="219.8" y="479.9" font-size="16.5" fill="#26a69a" stroke="#26a69a" stroke-width="0.3" text-anchor="start" textLength="63.8" lengthAdjust="spacingAndGlyphs">0.00053</text>
<text x="295.0" y="479.9" font-size="16.5" fill="#2196f3" stroke="#2196f3" stroke-width="0.3" text-anchor="start" textLength="63.9" lengthAdjust="spacingAndGlyphs">0.00057</text>
<text x="369.8" y="479.9" font-size="16.5" fill="#ff6d00" stroke="#ff6d00" stroke-width="0.3" text-anchor="start" textLength="63.9" lengthAdjust="spacingAndGlyphs">0.00003</text>
<text transform="translate(1432.6 88.0) scale(1.070 1)" font-size="16.4" fill="#131722" stroke="#131722" stroke-width="0.2" text-anchor="start" textLength="62.52" lengthAdjust="spacing">0.85500</text>
<text transform="translate(1432.6 167.5) scale(1.070 1)" font-size="16.4" fill="#131722" stroke="#131722" stroke-width="0.2" text-anchor="start" textLength="62.52" lengthAdjust="spacing">0.85000</text>
<text transform="translate(1432.6 246.8) scale(1.070 1)" font-size="16.4" fill="#131722" stroke="#131722" stroke-width="0.2" text-anchor="start" textLength="62.52" lengthAdjust="spacing">0.84500</text>
<text transform="translate(1432.6 406.4) scale(1.070 1)" font-size="16.4" fill="#131722" stroke="#131722" stroke-width="0.2" text-anchor="start" textLength="62.52" lengthAdjust="spacing">0.83500</text>
<text transform="translate(1432.4 563.7) scale(1.070 1)" font-size="16.4" fill="#131722" stroke="#131722" stroke-width="0.2" text-anchor="start" textLength="72.15" lengthAdjust="spacing">−0.00200</text>
<path d="M1420.5 37.5 H1503.5 Q1506.3 37.5 1506.3 40.3 V58.1 Q1506.3 60.9 1503.5 60.9 H1420.5 Z" fill="#5d606b"/>
<text transform="translate(1432.6 55.4) scale(1.070 1)" font-size="16.4" fill="#fff" text-anchor="start" textLength="62.43" lengthAdjust="spacing">0.85615</text>
<path d="M1420.5 87.9 H1503.5 Q1506.3 87.9 1506.3 90.7 V108.5 Q1506.3 111.3 1503.5 111.3 H1420.5 Z" fill="#5d606b"/>
<text transform="translate(1432.6 105.8) scale(1.070 1)" font-size="16.4" fill="#fff" text-anchor="start" textLength="62.43" lengthAdjust="spacing">0.85388</text>
<path d="M1420.5 60.9 H1503.5 Q1506.3 60.9 1506.3 63.7 V81.5 Q1506.3 84.3 1503.5 84.3 H1420.5 Z" fill="#434651"/>
<text transform="translate(1432.6 78.8) scale(1.070 1)" font-size="16.4" fill="#fff" text-anchor="start" textLength="62.43" lengthAdjust="spacing">0.85557</text>
<path d="M1420.5 118.1 H1503.5 Q1506.3 118.1 1506.3 120.9 V138.7 Q1506.3 141.5 1503.5 141.5 H1420.5 Z" fill="#5d606b"/>
<text transform="translate(1432.6 136.0) scale(1.070 1)" font-size="16.4" fill="#fff" text-anchor="start" textLength="62.43" lengthAdjust="spacing">0.85170</text>
<path d="M1420.5 171.3 H1503.5 Q1506.3 171.3 1506.3 174.1 V191.9 Q1506.3 194.7 1503.5 194.7 H1420.5 Z" fill="#089981"/>
<text transform="translate(1432.6 189.2) scale(1.070 1)" font-size="16.4" fill="#fff" text-anchor="start" textLength="62.43" lengthAdjust="spacing">0.84863</text>
<path d="M1420.5 142.2 H1503.5 Q1506.3 142.2 1506.3 145.0 V162.8 Q1506.3 165.6 1503.5 165.6 H1420.5 Z" fill="#2e8b57"/>
<text transform="translate(1432.6 160.1) scale(1.070 1)" font-size="16.4" fill="#fff" text-anchor="start" textLength="62.43" lengthAdjust="spacing">0.85047</text>
<path d="M1420.5 195.7 H1503.5 Q1506.3 195.7 1506.3 198.5 V216.3 Q1506.3 219.1 1503.5 219.1 H1420.5 Z" fill="#2222ee"/>
<text transform="translate(1432.6 213.6) scale(1.070 1)" font-size="16.4" fill="#fff" text-anchor="start" textLength="62.43" lengthAdjust="spacing">0.84710</text>
<path d="M1420.5 219.1 H1503.5 Q1506.3 219.1 1506.3 221.9 V239.7 Q1506.3 242.5 1503.5 242.5 H1420.5 Z" fill="#f23645"/>
<text transform="translate(1432.6 237.0) scale(1.070 1)" font-size="16.4" fill="#fff" text-anchor="start" textLength="62.43" lengthAdjust="spacing">0.84665</text>
<path d="M1420.5 307.5 H1503.5 Q1506.3 307.5 1506.3 310.3 V328.1 Q1506.3 330.9 1503.5 330.9 H1420.5 Z" fill="#434651"/>
<text transform="translate(1432.6 325.4) scale(1.070 1)" font-size="16.4" fill="#fff" text-anchor="start" textLength="62.43" lengthAdjust="spacing">0.84009</text>
<path d="M1420.5 348.2 H1503.5 Q1506.3 348.2 1506.3 351.0 V368.8 Q1506.3 371.6 1503.5 371.6 H1420.5 Z" fill="#434651"/>
<text transform="translate(1432.6 366.1) scale(1.070 1)" font-size="16.4" fill="#fff" text-anchor="start" textLength="62.43" lengthAdjust="spacing">0.83754</text>
<path d="M1420.5 414.1 H1503.5 Q1506.3 414.1 1506.3 416.9 V434.7 Q1506.3 437.5 1503.5 437.5 H1420.5 Z" fill="#434651"/>
<text transform="translate(1432.6 432.0) scale(1.070 1)" font-size="16.4" fill="#fff" text-anchor="start" textLength="62.43" lengthAdjust="spacing">0.83340</text>
<path d="M1420.5 454.8 H1503.5 Q1506.3 454.8 1506.3 457.6 V475.4 Q1506.3 478.2 1503.5 478.2 H1420.5 Z" fill="#2196f3"/>
<text transform="translate(1432.6 472.7) scale(1.070 1)" font-size="16.4" fill="#fff" text-anchor="start" textLength="62.43" lengthAdjust="spacing">0.00057</text>
<path d="M1420.5 478.2 H1503.5 Q1506.3 478.2 1506.3 481.0 V498.8 Q1506.3 501.6 1503.5 501.6 H1420.5 Z" fill="#26a69a"/>
<text transform="translate(1432.6 496.1) scale(1.070 1)" font-size="16.4" fill="#fff" text-anchor="start" textLength="62.43" lengthAdjust="spacing">0.00053</text>
<path d="M1420.5 501.7 H1503.5 Q1506.3 501.7 1506.3 504.5 V522.3 Q1506.3 525.1 1503.5 525.1 H1420.5 Z" fill="#ff6d00"/>
<text transform="translate(1432.6 519.6) scale(1.070 1)" font-size="16.4" fill="#fff" text-anchor="start" textLength="62.43" lengthAdjust="spacing">0.00003</text>
<text transform="translate(56.5 623.5) scale(1.070 1)" font-size="16.4" fill="#131722" stroke="#131722" stroke-width="0.2" text-anchor="middle" textLength="17.94" lengthAdjust="spacing">16</text>
<text transform="translate(203.0 623.5) scale(1.070 1)" font-size="16.4" fill="#131722" stroke="#131722" stroke-width="0.2" text-anchor="middle" textLength="17.94" lengthAdjust="spacing">22</text>
<text transform="translate(331.8 623.5) scale(1.070 1)" font-size="16.4" fill="#131722" stroke="#131722" stroke-width="0.2" text-anchor="middle" textLength="41.50" lengthAdjust="spacing">12:00</text>
<text transform="translate(459.5 623.5) scale(1.070 1)" font-size="16.4" fill="#131722" stroke="#131722" stroke-width="0.2" text-anchor="middle" textLength="29.35" lengthAdjust="spacing" font-weight="bold">Sep</text>
<text transform="translate(606.5 623.5) scale(1.070 1)" font-size="16.4" fill="#131722" stroke="#131722" stroke-width="0.2" text-anchor="middle" textLength="8.88" lengthAdjust="spacing">6</text>
<text transform="translate(753.5 623.5) scale(1.070 1)" font-size="16.4" fill="#131722" stroke="#131722" stroke-width="0.2" text-anchor="middle" textLength="17.94" lengthAdjust="spacing">12</text>
<text transform="translate(900.0 623.5) scale(1.070 1)" font-size="16.4" fill="#131722" stroke="#131722" stroke-width="0.2" text-anchor="middle" textLength="17.94" lengthAdjust="spacing">18</text>
<text transform="translate(1047.0 623.5) scale(1.070 1)" font-size="16.4" fill="#131722" stroke="#131722" stroke-width="0.2" text-anchor="middle" textLength="18.13" lengthAdjust="spacing">24</text>
<text transform="translate(1230.0 623.5) scale(1.070 1)" font-size="16.4" fill="#131722" stroke="#131722" stroke-width="0.2" text-anchor="middle" textLength="26.54" lengthAdjust="spacing" font-weight="bold">Oct</text>
<text transform="translate(1377.3 623.5) scale(1.070 1)" font-size="16.4" fill="#131722" stroke="#131722" stroke-width="0.2" text-anchor="middle" textLength="8.88" lengthAdjust="spacing">6</text>
<g fill="#131722"><path d="M13.9 653.3 H24.1 V666.7 H19 V658.4 H13.9 Z"/><circle cx="29.3" cy="656.1" r="2.65"/><path d="M33.6 653.3 H40.7 L36.3 666.7 H29.3 Z"/></g>
<text x="46.8" y="667.7" font-size="18.6" fill="#131722" stroke="#131722" stroke-width="0.3" text-anchor="start" textLength="101.0" lengthAdjust="spacingAndGlyphs">TradingView</text>
</svg></body></html>
